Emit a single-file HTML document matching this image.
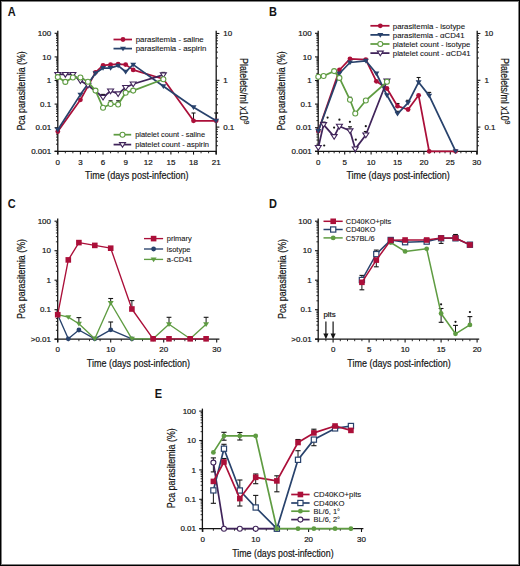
<!DOCTYPE html>
<html><head><meta charset="utf-8"><style>
html,body{margin:0;padding:0;background:#fff;}
.fig{position:relative;width:520px;height:566px;overflow:hidden;background:#fff;}
.frame{position:absolute;left:0;top:0;width:518px;height:564px;border:1px solid #000;}
.frame2{position:absolute;left:1px;top:1px;width:516px;height:562px;border:1px solid #808080;}
svg{position:absolute;left:0;top:0;}
text{font-family:"Liberation Sans",sans-serif;}
</style></head><body>
<div class="fig">
<svg width="520" height="566" viewBox="0 0 520 566" font-family="Liberation Sans, sans-serif">
<text transform="translate(7.70 15.90) scale(0.9 1)" font-size="12.2" fill="#151515" stroke="#151515" stroke-width="0" text-anchor="start" font-weight="bold">A</text>
<line x1="57.80" y1="30.80" x2="57.80" y2="154.60" stroke="#151515" stroke-width="1.3"/>
<line x1="54.60" y1="151.30" x2="216.60" y2="151.30" stroke="#151515" stroke-width="1.3"/>
<line x1="216.20" y1="30.80" x2="216.20" y2="154.60" stroke="#151515" stroke-width="1.3"/>
<line x1="57.80" y1="151.30" x2="54.60" y2="151.30" stroke="#151515" stroke-width="1.1"/>
<line x1="57.80" y1="144.20" x2="56.00" y2="144.20" stroke="#151515" stroke-width="0.9"/>
<line x1="57.80" y1="140.04" x2="56.00" y2="140.04" stroke="#151515" stroke-width="0.9"/>
<line x1="57.80" y1="137.09" x2="56.00" y2="137.09" stroke="#151515" stroke-width="0.9"/>
<line x1="57.80" y1="134.80" x2="56.00" y2="134.80" stroke="#151515" stroke-width="0.9"/>
<line x1="57.80" y1="132.94" x2="56.00" y2="132.94" stroke="#151515" stroke-width="0.9"/>
<line x1="57.80" y1="131.36" x2="56.00" y2="131.36" stroke="#151515" stroke-width="0.9"/>
<line x1="57.80" y1="129.99" x2="56.00" y2="129.99" stroke="#151515" stroke-width="0.9"/>
<line x1="57.80" y1="128.78" x2="56.00" y2="128.78" stroke="#151515" stroke-width="0.9"/>
<line x1="57.80" y1="127.70" x2="54.60" y2="127.70" stroke="#151515" stroke-width="1.1"/>
<line x1="57.80" y1="120.60" x2="56.00" y2="120.60" stroke="#151515" stroke-width="0.9"/>
<line x1="57.80" y1="116.44" x2="56.00" y2="116.44" stroke="#151515" stroke-width="0.9"/>
<line x1="57.80" y1="113.49" x2="56.00" y2="113.49" stroke="#151515" stroke-width="0.9"/>
<line x1="57.80" y1="111.20" x2="56.00" y2="111.20" stroke="#151515" stroke-width="0.9"/>
<line x1="57.80" y1="109.34" x2="56.00" y2="109.34" stroke="#151515" stroke-width="0.9"/>
<line x1="57.80" y1="107.76" x2="56.00" y2="107.76" stroke="#151515" stroke-width="0.9"/>
<line x1="57.80" y1="106.39" x2="56.00" y2="106.39" stroke="#151515" stroke-width="0.9"/>
<line x1="57.80" y1="105.18" x2="56.00" y2="105.18" stroke="#151515" stroke-width="0.9"/>
<line x1="57.80" y1="104.10" x2="54.60" y2="104.10" stroke="#151515" stroke-width="1.1"/>
<line x1="57.80" y1="97.00" x2="56.00" y2="97.00" stroke="#151515" stroke-width="0.9"/>
<line x1="57.80" y1="92.84" x2="56.00" y2="92.84" stroke="#151515" stroke-width="0.9"/>
<line x1="57.80" y1="89.89" x2="56.00" y2="89.89" stroke="#151515" stroke-width="0.9"/>
<line x1="57.80" y1="87.60" x2="56.00" y2="87.60" stroke="#151515" stroke-width="0.9"/>
<line x1="57.80" y1="85.74" x2="56.00" y2="85.74" stroke="#151515" stroke-width="0.9"/>
<line x1="57.80" y1="84.16" x2="56.00" y2="84.16" stroke="#151515" stroke-width="0.9"/>
<line x1="57.80" y1="82.79" x2="56.00" y2="82.79" stroke="#151515" stroke-width="0.9"/>
<line x1="57.80" y1="81.58" x2="56.00" y2="81.58" stroke="#151515" stroke-width="0.9"/>
<line x1="57.80" y1="80.50" x2="54.60" y2="80.50" stroke="#151515" stroke-width="1.1"/>
<line x1="57.80" y1="73.40" x2="56.00" y2="73.40" stroke="#151515" stroke-width="0.9"/>
<line x1="57.80" y1="69.24" x2="56.00" y2="69.24" stroke="#151515" stroke-width="0.9"/>
<line x1="57.80" y1="66.29" x2="56.00" y2="66.29" stroke="#151515" stroke-width="0.9"/>
<line x1="57.80" y1="64.00" x2="56.00" y2="64.00" stroke="#151515" stroke-width="0.9"/>
<line x1="57.80" y1="62.14" x2="56.00" y2="62.14" stroke="#151515" stroke-width="0.9"/>
<line x1="57.80" y1="60.56" x2="56.00" y2="60.56" stroke="#151515" stroke-width="0.9"/>
<line x1="57.80" y1="59.19" x2="56.00" y2="59.19" stroke="#151515" stroke-width="0.9"/>
<line x1="57.80" y1="57.98" x2="56.00" y2="57.98" stroke="#151515" stroke-width="0.9"/>
<line x1="57.80" y1="56.90" x2="54.60" y2="56.90" stroke="#151515" stroke-width="1.1"/>
<line x1="57.80" y1="49.80" x2="56.00" y2="49.80" stroke="#151515" stroke-width="0.9"/>
<line x1="57.80" y1="45.64" x2="56.00" y2="45.64" stroke="#151515" stroke-width="0.9"/>
<line x1="57.80" y1="42.69" x2="56.00" y2="42.69" stroke="#151515" stroke-width="0.9"/>
<line x1="57.80" y1="40.40" x2="56.00" y2="40.40" stroke="#151515" stroke-width="0.9"/>
<line x1="57.80" y1="38.54" x2="56.00" y2="38.54" stroke="#151515" stroke-width="0.9"/>
<line x1="57.80" y1="36.96" x2="56.00" y2="36.96" stroke="#151515" stroke-width="0.9"/>
<line x1="57.80" y1="35.59" x2="56.00" y2="35.59" stroke="#151515" stroke-width="0.9"/>
<line x1="57.80" y1="34.38" x2="56.00" y2="34.38" stroke="#151515" stroke-width="0.9"/>
<line x1="57.80" y1="33.30" x2="54.60" y2="33.30" stroke="#151515" stroke-width="1.1"/>
<line x1="216.20" y1="145.72" x2="218.00" y2="145.72" stroke="#151515" stroke-width="0.9"/>
<line x1="216.20" y1="141.19" x2="218.00" y2="141.19" stroke="#151515" stroke-width="0.9"/>
<line x1="216.20" y1="137.48" x2="218.00" y2="137.48" stroke="#151515" stroke-width="0.9"/>
<line x1="216.20" y1="134.35" x2="218.00" y2="134.35" stroke="#151515" stroke-width="0.9"/>
<line x1="216.20" y1="131.64" x2="218.00" y2="131.64" stroke="#151515" stroke-width="0.9"/>
<line x1="216.20" y1="129.24" x2="218.00" y2="129.24" stroke="#151515" stroke-width="0.9"/>
<line x1="216.20" y1="127.10" x2="219.40" y2="127.10" stroke="#151515" stroke-width="1.1"/>
<line x1="216.20" y1="113.01" x2="218.00" y2="113.01" stroke="#151515" stroke-width="0.9"/>
<line x1="216.20" y1="104.77" x2="218.00" y2="104.77" stroke="#151515" stroke-width="0.9"/>
<line x1="216.20" y1="98.92" x2="218.00" y2="98.92" stroke="#151515" stroke-width="0.9"/>
<line x1="216.20" y1="94.39" x2="218.00" y2="94.39" stroke="#151515" stroke-width="0.9"/>
<line x1="216.20" y1="90.68" x2="218.00" y2="90.68" stroke="#151515" stroke-width="0.9"/>
<line x1="216.20" y1="87.55" x2="218.00" y2="87.55" stroke="#151515" stroke-width="0.9"/>
<line x1="216.20" y1="84.84" x2="218.00" y2="84.84" stroke="#151515" stroke-width="0.9"/>
<line x1="216.20" y1="82.44" x2="218.00" y2="82.44" stroke="#151515" stroke-width="0.9"/>
<line x1="216.20" y1="80.30" x2="219.40" y2="80.30" stroke="#151515" stroke-width="1.1"/>
<line x1="216.20" y1="66.21" x2="218.00" y2="66.21" stroke="#151515" stroke-width="0.9"/>
<line x1="216.20" y1="57.97" x2="218.00" y2="57.97" stroke="#151515" stroke-width="0.9"/>
<line x1="216.20" y1="52.12" x2="218.00" y2="52.12" stroke="#151515" stroke-width="0.9"/>
<line x1="216.20" y1="47.59" x2="218.00" y2="47.59" stroke="#151515" stroke-width="0.9"/>
<line x1="216.20" y1="43.88" x2="218.00" y2="43.88" stroke="#151515" stroke-width="0.9"/>
<line x1="216.20" y1="40.75" x2="218.00" y2="40.75" stroke="#151515" stroke-width="0.9"/>
<line x1="216.20" y1="38.04" x2="218.00" y2="38.04" stroke="#151515" stroke-width="0.9"/>
<line x1="216.20" y1="35.64" x2="218.00" y2="35.64" stroke="#151515" stroke-width="0.9"/>
<line x1="216.20" y1="33.50" x2="219.40" y2="33.50" stroke="#151515" stroke-width="1.1"/>
<line x1="57.80" y1="151.30" x2="57.80" y2="154.60" stroke="#151515" stroke-width="1.1"/>
<text transform="translate(57.80 165.20)" font-size="8.0" fill="#151515" stroke="#151515" stroke-width="0.2" text-anchor="middle">0</text>
<line x1="65.34" y1="151.30" x2="65.34" y2="153.30" stroke="#151515" stroke-width="0.9"/>
<line x1="72.88" y1="151.30" x2="72.88" y2="153.30" stroke="#151515" stroke-width="0.9"/>
<line x1="80.42" y1="151.30" x2="80.42" y2="154.60" stroke="#151515" stroke-width="1.1"/>
<text transform="translate(80.42 165.20)" font-size="8.0" fill="#151515" stroke="#151515" stroke-width="0.2" text-anchor="middle">3</text>
<line x1="87.96" y1="151.30" x2="87.96" y2="153.30" stroke="#151515" stroke-width="0.9"/>
<line x1="95.50" y1="151.30" x2="95.50" y2="153.30" stroke="#151515" stroke-width="0.9"/>
<line x1="103.04" y1="151.30" x2="103.04" y2="154.60" stroke="#151515" stroke-width="1.1"/>
<text transform="translate(103.04 165.20)" font-size="8.0" fill="#151515" stroke="#151515" stroke-width="0.2" text-anchor="middle">6</text>
<line x1="110.58" y1="151.30" x2="110.58" y2="153.30" stroke="#151515" stroke-width="0.9"/>
<line x1="118.12" y1="151.30" x2="118.12" y2="153.30" stroke="#151515" stroke-width="0.9"/>
<line x1="125.66" y1="151.30" x2="125.66" y2="154.60" stroke="#151515" stroke-width="1.1"/>
<text transform="translate(125.66 165.20)" font-size="8.0" fill="#151515" stroke="#151515" stroke-width="0.2" text-anchor="middle">9</text>
<line x1="133.20" y1="151.30" x2="133.20" y2="153.30" stroke="#151515" stroke-width="0.9"/>
<line x1="140.74" y1="151.30" x2="140.74" y2="153.30" stroke="#151515" stroke-width="0.9"/>
<line x1="148.28" y1="151.30" x2="148.28" y2="154.60" stroke="#151515" stroke-width="1.1"/>
<text transform="translate(148.28 165.20)" font-size="8.0" fill="#151515" stroke="#151515" stroke-width="0.2" text-anchor="middle">12</text>
<line x1="155.82" y1="151.30" x2="155.82" y2="153.30" stroke="#151515" stroke-width="0.9"/>
<line x1="163.36" y1="151.30" x2="163.36" y2="153.30" stroke="#151515" stroke-width="0.9"/>
<line x1="170.90" y1="151.30" x2="170.90" y2="154.60" stroke="#151515" stroke-width="1.1"/>
<text transform="translate(170.90 165.20)" font-size="8.0" fill="#151515" stroke="#151515" stroke-width="0.2" text-anchor="middle">15</text>
<line x1="178.44" y1="151.30" x2="178.44" y2="153.30" stroke="#151515" stroke-width="0.9"/>
<line x1="185.98" y1="151.30" x2="185.98" y2="153.30" stroke="#151515" stroke-width="0.9"/>
<line x1="193.52" y1="151.30" x2="193.52" y2="154.60" stroke="#151515" stroke-width="1.1"/>
<text transform="translate(193.52 165.20)" font-size="8.0" fill="#151515" stroke="#151515" stroke-width="0.2" text-anchor="middle">18</text>
<line x1="201.06" y1="151.30" x2="201.06" y2="153.30" stroke="#151515" stroke-width="0.9"/>
<line x1="208.60" y1="151.30" x2="208.60" y2="153.30" stroke="#151515" stroke-width="0.9"/>
<line x1="216.14" y1="151.30" x2="216.14" y2="154.60" stroke="#151515" stroke-width="1.1"/>
<text transform="translate(216.14 165.20)" font-size="8.0" fill="#151515" stroke="#151515" stroke-width="0.2" text-anchor="middle">21</text>
<text transform="translate(51.20 36.00)" font-size="8.0" fill="#151515" stroke="#151515" stroke-width="0.2" text-anchor="end">100</text>
<text transform="translate(51.20 59.60)" font-size="8.0" fill="#151515" stroke="#151515" stroke-width="0.2" text-anchor="end">10</text>
<text transform="translate(51.20 83.20)" font-size="8.0" fill="#151515" stroke="#151515" stroke-width="0.2" text-anchor="end">1</text>
<text transform="translate(51.20 106.80)" font-size="8.0" fill="#151515" stroke="#151515" stroke-width="0.2" text-anchor="end">0.1</text>
<text transform="translate(51.20 130.40)" font-size="8.0" fill="#151515" stroke="#151515" stroke-width="0.2" text-anchor="end">0.01</text>
<text transform="translate(51.20 154.00)" font-size="8.0" fill="#151515" stroke="#151515" stroke-width="0.2" text-anchor="end">0.001</text>
<text transform="translate(223.20 36.20)" font-size="8.0" fill="#151515" stroke="#151515" stroke-width="0.2" text-anchor="start">10</text>
<text transform="translate(223.20 83.00)" font-size="8.0" fill="#151515" stroke="#151515" stroke-width="0.2" text-anchor="start">1</text>
<text transform="translate(223.20 129.80)" font-size="8.0" fill="#151515" stroke="#151515" stroke-width="0.2" text-anchor="start">0.1</text>
<text transform="translate(136.80 178.80)" font-size="10.7" fill="#151515" stroke="#151515" stroke-width="0.2" text-anchor="middle" textLength="103.4" lengthAdjust="spacingAndGlyphs">Time (days post-infection)</text>
<text transform="translate(24.90 90.90) rotate(-90)" font-size="10.7" fill="#151515" stroke="#151515" stroke-width="0.2" text-anchor="middle" textLength="79.3" lengthAdjust="spacingAndGlyphs">Pca parasitemia (%)</text>
<text transform="translate(240.20 58.00) rotate(90)" font-size="10.7" fill="#151515" stroke="#151515" stroke-width="0.2" text-anchor="start" textLength="62.6" lengthAdjust="spacingAndGlyphs">Platelets/ml x10</text>
<text transform="translate(244.40 120.60) rotate(90)" font-size="7.0" fill="#151515" stroke="#151515" stroke-width="0.2" text-anchor="start">9</text>
<line x1="193.52" y1="120.80" x2="193.52" y2="113.00" stroke="#151515" stroke-width="1.0"/>
<line x1="191.52" y1="113.00" x2="195.52" y2="113.00" stroke="#151515" stroke-width="1.1"/>
<line x1="216.14" y1="120.80" x2="216.14" y2="113.00" stroke="#151515" stroke-width="1.0"/>
<line x1="214.14" y1="113.00" x2="218.14" y2="113.00" stroke="#151515" stroke-width="1.1"/>
<line x1="110.58" y1="104.00" x2="110.58" y2="100.80" stroke="#151515" stroke-width="1.0"/>
<line x1="108.58" y1="100.80" x2="112.58" y2="100.80" stroke="#151515" stroke-width="1.1"/>
<line x1="118.12" y1="104.50" x2="118.12" y2="100.80" stroke="#151515" stroke-width="1.0"/>
<line x1="116.12" y1="100.80" x2="120.12" y2="100.80" stroke="#151515" stroke-width="1.1"/>
<line x1="103.04" y1="97.30" x2="103.04" y2="94.40" stroke="#151515" stroke-width="1.0"/>
<line x1="101.04" y1="94.40" x2="105.04" y2="94.40" stroke="#151515" stroke-width="1.1"/>
<line x1="163.36" y1="74.80" x2="163.36" y2="72.40" stroke="#151515" stroke-width="1.0"/>
<line x1="161.36" y1="72.40" x2="165.36" y2="72.40" stroke="#151515" stroke-width="1.1"/>
<polyline points="57.80,131.50 80.42,99.80 95.50,72.30 103.04,65.40 110.58,64.60 118.12,64.10 125.66,64.60 133.20,69.90 163.36,79.00 193.52,120.80 216.14,120.80" fill="none" stroke="#ab0f39" stroke-width="1.75" stroke-linejoin="round"/>
<circle cx="57.80" cy="131.50" r="2.40" fill="#ab0f39"/>
<circle cx="80.42" cy="99.80" r="2.40" fill="#ab0f39"/>
<circle cx="95.50" cy="72.30" r="2.40" fill="#ab0f39"/>
<circle cx="103.04" cy="65.40" r="2.40" fill="#ab0f39"/>
<circle cx="110.58" cy="64.60" r="2.40" fill="#ab0f39"/>
<circle cx="118.12" cy="64.10" r="2.40" fill="#ab0f39"/>
<circle cx="125.66" cy="64.60" r="2.40" fill="#ab0f39"/>
<circle cx="133.20" cy="69.90" r="2.40" fill="#ab0f39"/>
<circle cx="163.36" cy="79.00" r="2.40" fill="#ab0f39"/>
<circle cx="193.52" cy="120.80" r="2.40" fill="#ab0f39"/>
<circle cx="216.14" cy="120.80" r="2.40" fill="#ab0f39"/>
<polyline points="57.80,129.80 80.42,94.60 95.50,73.30 103.04,68.00 110.58,68.00 118.12,65.60 125.66,71.80 133.20,64.60 163.36,86.20 193.52,107.30 216.14,120.80" fill="none" stroke="#28426c" stroke-width="1.75" stroke-linejoin="round"/>
<path d="M54.80,127.85L60.80,127.85L57.80,132.53Z" fill="#28426c"/>
<path d="M77.42,92.65L83.42,92.65L80.42,97.33Z" fill="#28426c"/>
<path d="M92.50,71.35L98.50,71.35L95.50,76.03Z" fill="#28426c"/>
<path d="M100.04,66.05L106.04,66.05L103.04,70.73Z" fill="#28426c"/>
<path d="M107.58,66.05L113.58,66.05L110.58,70.73Z" fill="#28426c"/>
<path d="M115.12,63.65L121.12,63.65L118.12,68.33Z" fill="#28426c"/>
<path d="M122.66,69.85L128.66,69.85L125.66,74.53Z" fill="#28426c"/>
<path d="M130.20,62.65L136.20,62.65L133.20,67.33Z" fill="#28426c"/>
<path d="M160.36,84.25L166.36,84.25L163.36,88.93Z" fill="#28426c"/>
<path d="M190.52,105.35L196.52,105.35L193.52,110.03Z" fill="#28426c"/>
<path d="M213.14,118.85L219.14,118.85L216.14,123.53Z" fill="#28426c"/>
<polyline points="57.80,74.40 65.34,74.40 72.88,74.40 80.42,80.80 87.96,85.30 103.04,97.30 110.58,91.00 118.12,93.80 125.66,87.50 133.20,84.00 163.36,74.80" fill="none" stroke="#40245a" stroke-width="1.75" stroke-linejoin="round"/>
<path d="M54.80,72.45L60.80,72.45L57.80,77.13Z" fill="#fff" stroke="#40245a" stroke-width="1.1" stroke-linejoin="miter"/>
<path d="M62.34,72.45L68.34,72.45L65.34,77.13Z" fill="#fff" stroke="#40245a" stroke-width="1.1" stroke-linejoin="miter"/>
<path d="M69.88,72.45L75.88,72.45L72.88,77.13Z" fill="#fff" stroke="#40245a" stroke-width="1.1" stroke-linejoin="miter"/>
<path d="M77.42,78.85L83.42,78.85L80.42,83.53Z" fill="#fff" stroke="#40245a" stroke-width="1.1" stroke-linejoin="miter"/>
<path d="M84.96,83.35L90.96,83.35L87.96,88.03Z" fill="#fff" stroke="#40245a" stroke-width="1.1" stroke-linejoin="miter"/>
<path d="M100.04,95.35L106.04,95.35L103.04,100.03Z" fill="#fff" stroke="#40245a" stroke-width="1.1" stroke-linejoin="miter"/>
<path d="M107.58,89.05L113.58,89.05L110.58,93.73Z" fill="#fff" stroke="#40245a" stroke-width="1.1" stroke-linejoin="miter"/>
<path d="M115.12,91.85L121.12,91.85L118.12,96.53Z" fill="#fff" stroke="#40245a" stroke-width="1.1" stroke-linejoin="miter"/>
<path d="M122.66,85.55L128.66,85.55L125.66,90.23Z" fill="#fff" stroke="#40245a" stroke-width="1.1" stroke-linejoin="miter"/>
<path d="M130.20,82.05L136.20,82.05L133.20,86.73Z" fill="#fff" stroke="#40245a" stroke-width="1.1" stroke-linejoin="miter"/>
<path d="M160.36,72.85L166.36,72.85L163.36,77.53Z" fill="#fff" stroke="#40245a" stroke-width="1.1" stroke-linejoin="miter"/>
<polyline points="57.80,77.10 65.34,81.90 72.88,77.50 80.42,77.50 87.96,81.80 95.50,90.60 103.04,107.70 110.58,104.00 118.12,104.50 125.66,92.70 133.20,90.60 163.36,79.20" fill="none" stroke="#5f9c42" stroke-width="1.75" stroke-linejoin="round"/>
<circle cx="57.80" cy="77.10" r="2.50" fill="#fff" stroke="#5f9c42" stroke-width="1.1"/>
<circle cx="65.34" cy="81.90" r="2.50" fill="#fff" stroke="#5f9c42" stroke-width="1.1"/>
<circle cx="72.88" cy="77.50" r="2.50" fill="#fff" stroke="#5f9c42" stroke-width="1.1"/>
<circle cx="80.42" cy="77.50" r="2.50" fill="#fff" stroke="#5f9c42" stroke-width="1.1"/>
<circle cx="87.96" cy="81.80" r="2.50" fill="#fff" stroke="#5f9c42" stroke-width="1.1"/>
<circle cx="95.50" cy="90.60" r="2.50" fill="#fff" stroke="#5f9c42" stroke-width="1.1"/>
<circle cx="103.04" cy="107.70" r="2.50" fill="#fff" stroke="#5f9c42" stroke-width="1.1"/>
<circle cx="110.58" cy="104.00" r="2.50" fill="#fff" stroke="#5f9c42" stroke-width="1.1"/>
<circle cx="118.12" cy="104.50" r="2.50" fill="#fff" stroke="#5f9c42" stroke-width="1.1"/>
<circle cx="125.66" cy="92.70" r="2.50" fill="#fff" stroke="#5f9c42" stroke-width="1.1"/>
<circle cx="133.20" cy="90.60" r="2.50" fill="#fff" stroke="#5f9c42" stroke-width="1.1"/>
<circle cx="163.36" cy="79.20" r="2.50" fill="#fff" stroke="#5f9c42" stroke-width="1.1"/>
<line x1="113.50" y1="39.50" x2="132.00" y2="39.50" stroke="#ab0f39" stroke-width="1.75"/>
<circle cx="123.00" cy="39.50" r="2.40" fill="#ab0f39"/>
<text transform="translate(135.70 42.20)" font-size="7.8" fill="#151515" stroke="#151515" stroke-width="0.1" text-anchor="start" textLength="68" lengthAdjust="spacingAndGlyphs">parasitemia - saline</text>
<line x1="113.50" y1="48.60" x2="132.00" y2="48.60" stroke="#28426c" stroke-width="1.75"/>
<path d="M120.00,46.65L126.00,46.65L123.00,51.33Z" fill="#28426c"/>
<text transform="translate(135.70 51.30)" font-size="7.8" fill="#151515" stroke="#151515" stroke-width="0.1" text-anchor="start" textLength="70.6" lengthAdjust="spacingAndGlyphs">parasitemia - aspirin</text>
<line x1="113.60" y1="134.70" x2="131.20" y2="134.70" stroke="#5f9c42" stroke-width="1.75"/>
<circle cx="122.50" cy="134.70" r="2.50" fill="#fff" stroke="#5f9c42" stroke-width="1.1"/>
<text transform="translate(135.20 137.40)" font-size="7.8" fill="#151515" stroke="#151515" stroke-width="0.1" text-anchor="start" textLength="69.8" lengthAdjust="spacingAndGlyphs">platelet count - saline</text>
<line x1="113.60" y1="144.60" x2="131.20" y2="144.60" stroke="#40245a" stroke-width="1.75"/>
<path d="M119.50,142.65L125.50,142.65L122.50,147.33Z" fill="#fff" stroke="#40245a" stroke-width="1.1" stroke-linejoin="miter"/>
<text transform="translate(135.20 147.30)" font-size="7.8" fill="#151515" stroke="#151515" stroke-width="0.1" text-anchor="start" textLength="73.8" lengthAdjust="spacingAndGlyphs">platelet count - aspirin</text>
<text transform="translate(269.00 16.10) scale(0.9 1)" font-size="12.2" fill="#151515" stroke="#151515" stroke-width="0" text-anchor="start" font-weight="bold">B</text>
<line x1="318.20" y1="30.80" x2="318.20" y2="154.60" stroke="#151515" stroke-width="1.3"/>
<line x1="315.00" y1="151.30" x2="477.40" y2="151.30" stroke="#151515" stroke-width="1.3"/>
<line x1="477.20" y1="30.80" x2="477.20" y2="154.60" stroke="#151515" stroke-width="1.3"/>
<line x1="318.20" y1="151.30" x2="315.00" y2="151.30" stroke="#151515" stroke-width="1.1"/>
<line x1="318.20" y1="144.20" x2="316.40" y2="144.20" stroke="#151515" stroke-width="0.9"/>
<line x1="318.20" y1="140.04" x2="316.40" y2="140.04" stroke="#151515" stroke-width="0.9"/>
<line x1="318.20" y1="137.09" x2="316.40" y2="137.09" stroke="#151515" stroke-width="0.9"/>
<line x1="318.20" y1="134.80" x2="316.40" y2="134.80" stroke="#151515" stroke-width="0.9"/>
<line x1="318.20" y1="132.94" x2="316.40" y2="132.94" stroke="#151515" stroke-width="0.9"/>
<line x1="318.20" y1="131.36" x2="316.40" y2="131.36" stroke="#151515" stroke-width="0.9"/>
<line x1="318.20" y1="129.99" x2="316.40" y2="129.99" stroke="#151515" stroke-width="0.9"/>
<line x1="318.20" y1="128.78" x2="316.40" y2="128.78" stroke="#151515" stroke-width="0.9"/>
<line x1="318.20" y1="127.70" x2="315.00" y2="127.70" stroke="#151515" stroke-width="1.1"/>
<line x1="318.20" y1="120.60" x2="316.40" y2="120.60" stroke="#151515" stroke-width="0.9"/>
<line x1="318.20" y1="116.44" x2="316.40" y2="116.44" stroke="#151515" stroke-width="0.9"/>
<line x1="318.20" y1="113.49" x2="316.40" y2="113.49" stroke="#151515" stroke-width="0.9"/>
<line x1="318.20" y1="111.20" x2="316.40" y2="111.20" stroke="#151515" stroke-width="0.9"/>
<line x1="318.20" y1="109.34" x2="316.40" y2="109.34" stroke="#151515" stroke-width="0.9"/>
<line x1="318.20" y1="107.76" x2="316.40" y2="107.76" stroke="#151515" stroke-width="0.9"/>
<line x1="318.20" y1="106.39" x2="316.40" y2="106.39" stroke="#151515" stroke-width="0.9"/>
<line x1="318.20" y1="105.18" x2="316.40" y2="105.18" stroke="#151515" stroke-width="0.9"/>
<line x1="318.20" y1="104.10" x2="315.00" y2="104.10" stroke="#151515" stroke-width="1.1"/>
<line x1="318.20" y1="97.00" x2="316.40" y2="97.00" stroke="#151515" stroke-width="0.9"/>
<line x1="318.20" y1="92.84" x2="316.40" y2="92.84" stroke="#151515" stroke-width="0.9"/>
<line x1="318.20" y1="89.89" x2="316.40" y2="89.89" stroke="#151515" stroke-width="0.9"/>
<line x1="318.20" y1="87.60" x2="316.40" y2="87.60" stroke="#151515" stroke-width="0.9"/>
<line x1="318.20" y1="85.74" x2="316.40" y2="85.74" stroke="#151515" stroke-width="0.9"/>
<line x1="318.20" y1="84.16" x2="316.40" y2="84.16" stroke="#151515" stroke-width="0.9"/>
<line x1="318.20" y1="82.79" x2="316.40" y2="82.79" stroke="#151515" stroke-width="0.9"/>
<line x1="318.20" y1="81.58" x2="316.40" y2="81.58" stroke="#151515" stroke-width="0.9"/>
<line x1="318.20" y1="80.50" x2="315.00" y2="80.50" stroke="#151515" stroke-width="1.1"/>
<line x1="318.20" y1="73.40" x2="316.40" y2="73.40" stroke="#151515" stroke-width="0.9"/>
<line x1="318.20" y1="69.24" x2="316.40" y2="69.24" stroke="#151515" stroke-width="0.9"/>
<line x1="318.20" y1="66.29" x2="316.40" y2="66.29" stroke="#151515" stroke-width="0.9"/>
<line x1="318.20" y1="64.00" x2="316.40" y2="64.00" stroke="#151515" stroke-width="0.9"/>
<line x1="318.20" y1="62.14" x2="316.40" y2="62.14" stroke="#151515" stroke-width="0.9"/>
<line x1="318.20" y1="60.56" x2="316.40" y2="60.56" stroke="#151515" stroke-width="0.9"/>
<line x1="318.20" y1="59.19" x2="316.40" y2="59.19" stroke="#151515" stroke-width="0.9"/>
<line x1="318.20" y1="57.98" x2="316.40" y2="57.98" stroke="#151515" stroke-width="0.9"/>
<line x1="318.20" y1="56.90" x2="315.00" y2="56.90" stroke="#151515" stroke-width="1.1"/>
<line x1="318.20" y1="49.80" x2="316.40" y2="49.80" stroke="#151515" stroke-width="0.9"/>
<line x1="318.20" y1="45.64" x2="316.40" y2="45.64" stroke="#151515" stroke-width="0.9"/>
<line x1="318.20" y1="42.69" x2="316.40" y2="42.69" stroke="#151515" stroke-width="0.9"/>
<line x1="318.20" y1="40.40" x2="316.40" y2="40.40" stroke="#151515" stroke-width="0.9"/>
<line x1="318.20" y1="38.54" x2="316.40" y2="38.54" stroke="#151515" stroke-width="0.9"/>
<line x1="318.20" y1="36.96" x2="316.40" y2="36.96" stroke="#151515" stroke-width="0.9"/>
<line x1="318.20" y1="35.59" x2="316.40" y2="35.59" stroke="#151515" stroke-width="0.9"/>
<line x1="318.20" y1="34.38" x2="316.40" y2="34.38" stroke="#151515" stroke-width="0.9"/>
<line x1="318.20" y1="33.30" x2="315.00" y2="33.30" stroke="#151515" stroke-width="1.1"/>
<line x1="477.20" y1="145.72" x2="479.00" y2="145.72" stroke="#151515" stroke-width="0.9"/>
<line x1="477.20" y1="141.19" x2="479.00" y2="141.19" stroke="#151515" stroke-width="0.9"/>
<line x1="477.20" y1="137.48" x2="479.00" y2="137.48" stroke="#151515" stroke-width="0.9"/>
<line x1="477.20" y1="134.35" x2="479.00" y2="134.35" stroke="#151515" stroke-width="0.9"/>
<line x1="477.20" y1="131.64" x2="479.00" y2="131.64" stroke="#151515" stroke-width="0.9"/>
<line x1="477.20" y1="129.24" x2="479.00" y2="129.24" stroke="#151515" stroke-width="0.9"/>
<line x1="477.20" y1="127.10" x2="480.40" y2="127.10" stroke="#151515" stroke-width="1.1"/>
<line x1="477.20" y1="113.01" x2="479.00" y2="113.01" stroke="#151515" stroke-width="0.9"/>
<line x1="477.20" y1="104.77" x2="479.00" y2="104.77" stroke="#151515" stroke-width="0.9"/>
<line x1="477.20" y1="98.92" x2="479.00" y2="98.92" stroke="#151515" stroke-width="0.9"/>
<line x1="477.20" y1="94.39" x2="479.00" y2="94.39" stroke="#151515" stroke-width="0.9"/>
<line x1="477.20" y1="90.68" x2="479.00" y2="90.68" stroke="#151515" stroke-width="0.9"/>
<line x1="477.20" y1="87.55" x2="479.00" y2="87.55" stroke="#151515" stroke-width="0.9"/>
<line x1="477.20" y1="84.84" x2="479.00" y2="84.84" stroke="#151515" stroke-width="0.9"/>
<line x1="477.20" y1="82.44" x2="479.00" y2="82.44" stroke="#151515" stroke-width="0.9"/>
<line x1="477.20" y1="80.30" x2="480.40" y2="80.30" stroke="#151515" stroke-width="1.1"/>
<line x1="477.20" y1="66.21" x2="479.00" y2="66.21" stroke="#151515" stroke-width="0.9"/>
<line x1="477.20" y1="57.97" x2="479.00" y2="57.97" stroke="#151515" stroke-width="0.9"/>
<line x1="477.20" y1="52.12" x2="479.00" y2="52.12" stroke="#151515" stroke-width="0.9"/>
<line x1="477.20" y1="47.59" x2="479.00" y2="47.59" stroke="#151515" stroke-width="0.9"/>
<line x1="477.20" y1="43.88" x2="479.00" y2="43.88" stroke="#151515" stroke-width="0.9"/>
<line x1="477.20" y1="40.75" x2="479.00" y2="40.75" stroke="#151515" stroke-width="0.9"/>
<line x1="477.20" y1="38.04" x2="479.00" y2="38.04" stroke="#151515" stroke-width="0.9"/>
<line x1="477.20" y1="35.64" x2="479.00" y2="35.64" stroke="#151515" stroke-width="0.9"/>
<line x1="477.20" y1="33.50" x2="480.40" y2="33.50" stroke="#151515" stroke-width="1.1"/>
<line x1="318.30" y1="151.30" x2="318.30" y2="154.60" stroke="#151515" stroke-width="1.1"/>
<text transform="translate(318.30 165.20)" font-size="8.0" fill="#151515" stroke="#151515" stroke-width="0.2" text-anchor="middle">0</text>
<line x1="323.58" y1="151.30" x2="323.58" y2="153.30" stroke="#151515" stroke-width="0.9"/>
<line x1="328.86" y1="151.30" x2="328.86" y2="153.30" stroke="#151515" stroke-width="0.9"/>
<line x1="334.14" y1="151.30" x2="334.14" y2="153.30" stroke="#151515" stroke-width="0.9"/>
<line x1="339.42" y1="151.30" x2="339.42" y2="153.30" stroke="#151515" stroke-width="0.9"/>
<line x1="344.70" y1="151.30" x2="344.70" y2="154.60" stroke="#151515" stroke-width="1.1"/>
<text transform="translate(344.70 165.20)" font-size="8.0" fill="#151515" stroke="#151515" stroke-width="0.2" text-anchor="middle">5</text>
<line x1="349.98" y1="151.30" x2="349.98" y2="153.30" stroke="#151515" stroke-width="0.9"/>
<line x1="355.26" y1="151.30" x2="355.26" y2="153.30" stroke="#151515" stroke-width="0.9"/>
<line x1="360.54" y1="151.30" x2="360.54" y2="153.30" stroke="#151515" stroke-width="0.9"/>
<line x1="365.82" y1="151.30" x2="365.82" y2="153.30" stroke="#151515" stroke-width="0.9"/>
<line x1="371.10" y1="151.30" x2="371.10" y2="154.60" stroke="#151515" stroke-width="1.1"/>
<text transform="translate(371.10 165.20)" font-size="8.0" fill="#151515" stroke="#151515" stroke-width="0.2" text-anchor="middle">10</text>
<line x1="376.38" y1="151.30" x2="376.38" y2="153.30" stroke="#151515" stroke-width="0.9"/>
<line x1="381.66" y1="151.30" x2="381.66" y2="153.30" stroke="#151515" stroke-width="0.9"/>
<line x1="386.94" y1="151.30" x2="386.94" y2="153.30" stroke="#151515" stroke-width="0.9"/>
<line x1="392.22" y1="151.30" x2="392.22" y2="153.30" stroke="#151515" stroke-width="0.9"/>
<line x1="397.50" y1="151.30" x2="397.50" y2="154.60" stroke="#151515" stroke-width="1.1"/>
<text transform="translate(397.50 165.20)" font-size="8.0" fill="#151515" stroke="#151515" stroke-width="0.2" text-anchor="middle">15</text>
<line x1="402.78" y1="151.30" x2="402.78" y2="153.30" stroke="#151515" stroke-width="0.9"/>
<line x1="408.06" y1="151.30" x2="408.06" y2="153.30" stroke="#151515" stroke-width="0.9"/>
<line x1="413.34" y1="151.30" x2="413.34" y2="153.30" stroke="#151515" stroke-width="0.9"/>
<line x1="418.62" y1="151.30" x2="418.62" y2="153.30" stroke="#151515" stroke-width="0.9"/>
<line x1="423.90" y1="151.30" x2="423.90" y2="154.60" stroke="#151515" stroke-width="1.1"/>
<text transform="translate(423.90 165.20)" font-size="8.0" fill="#151515" stroke="#151515" stroke-width="0.2" text-anchor="middle">20</text>
<line x1="429.18" y1="151.30" x2="429.18" y2="153.30" stroke="#151515" stroke-width="0.9"/>
<line x1="434.46" y1="151.30" x2="434.46" y2="153.30" stroke="#151515" stroke-width="0.9"/>
<line x1="439.74" y1="151.30" x2="439.74" y2="153.30" stroke="#151515" stroke-width="0.9"/>
<line x1="445.02" y1="151.30" x2="445.02" y2="153.30" stroke="#151515" stroke-width="0.9"/>
<line x1="450.30" y1="151.30" x2="450.30" y2="154.60" stroke="#151515" stroke-width="1.1"/>
<text transform="translate(450.30 165.20)" font-size="8.0" fill="#151515" stroke="#151515" stroke-width="0.2" text-anchor="middle">25</text>
<line x1="455.58" y1="151.30" x2="455.58" y2="153.30" stroke="#151515" stroke-width="0.9"/>
<line x1="460.86" y1="151.30" x2="460.86" y2="153.30" stroke="#151515" stroke-width="0.9"/>
<line x1="466.14" y1="151.30" x2="466.14" y2="153.30" stroke="#151515" stroke-width="0.9"/>
<line x1="471.42" y1="151.30" x2="471.42" y2="153.30" stroke="#151515" stroke-width="0.9"/>
<line x1="476.70" y1="151.30" x2="476.70" y2="154.60" stroke="#151515" stroke-width="1.1"/>
<text transform="translate(476.70 165.20)" font-size="8.0" fill="#151515" stroke="#151515" stroke-width="0.2" text-anchor="middle">30</text>
<text transform="translate(311.60 36.00)" font-size="8.0" fill="#151515" stroke="#151515" stroke-width="0.2" text-anchor="end">100</text>
<text transform="translate(311.60 59.60)" font-size="8.0" fill="#151515" stroke="#151515" stroke-width="0.2" text-anchor="end">10</text>
<text transform="translate(311.60 83.20)" font-size="8.0" fill="#151515" stroke="#151515" stroke-width="0.2" text-anchor="end">1</text>
<text transform="translate(311.60 106.80)" font-size="8.0" fill="#151515" stroke="#151515" stroke-width="0.2" text-anchor="end">0.1</text>
<text transform="translate(311.60 130.40)" font-size="8.0" fill="#151515" stroke="#151515" stroke-width="0.2" text-anchor="end">0.01</text>
<text transform="translate(311.60 154.00)" font-size="8.0" fill="#151515" stroke="#151515" stroke-width="0.2" text-anchor="end">0.001</text>
<text transform="translate(484.40 36.20)" font-size="8.0" fill="#151515" stroke="#151515" stroke-width="0.2" text-anchor="start">10</text>
<text transform="translate(484.40 83.00)" font-size="8.0" fill="#151515" stroke="#151515" stroke-width="0.2" text-anchor="start">1</text>
<text transform="translate(484.40 129.80)" font-size="8.0" fill="#151515" stroke="#151515" stroke-width="0.2" text-anchor="start">0.1</text>
<text transform="translate(398.10 178.80)" font-size="10.7" fill="#151515" stroke="#151515" stroke-width="0.2" text-anchor="middle" textLength="103.4" lengthAdjust="spacingAndGlyphs">Time (days post-infection)</text>
<text transform="translate(285.20 90.90) rotate(-90)" font-size="10.7" fill="#151515" stroke="#151515" stroke-width="0.2" text-anchor="middle" textLength="79.3" lengthAdjust="spacingAndGlyphs">Pca parasitemia (%)</text>
<text transform="translate(500.70 58.00) rotate(90)" font-size="10.7" fill="#151515" stroke="#151515" stroke-width="0.2" text-anchor="start" textLength="62.6" lengthAdjust="spacingAndGlyphs">Platelets/ml x10</text>
<text transform="translate(504.90 120.60) rotate(90)" font-size="7.0" fill="#151515" stroke="#151515" stroke-width="0.2" text-anchor="start">9</text>
<line x1="323.58" y1="124.60" x2="323.58" y2="122.10" stroke="#151515" stroke-width="1.0"/>
<line x1="321.58" y1="122.10" x2="325.58" y2="122.10" stroke="#151515" stroke-width="1.1"/>
<line x1="349.98" y1="130.80" x2="349.98" y2="126.80" stroke="#151515" stroke-width="1.0"/>
<line x1="347.98" y1="126.80" x2="351.98" y2="126.80" stroke="#151515" stroke-width="1.1"/>
<line x1="365.82" y1="135.00" x2="365.82" y2="131.50" stroke="#151515" stroke-width="1.0"/>
<line x1="363.82" y1="131.50" x2="367.82" y2="131.50" stroke="#151515" stroke-width="1.1"/>
<line x1="349.98" y1="99.80" x2="349.98" y2="97.30" stroke="#151515" stroke-width="1.0"/>
<line x1="347.98" y1="97.30" x2="351.98" y2="97.30" stroke="#151515" stroke-width="1.1"/>
<line x1="386.94" y1="81.80" x2="386.94" y2="79.50" stroke="#151515" stroke-width="1.0"/>
<line x1="384.94" y1="79.50" x2="388.94" y2="79.50" stroke="#151515" stroke-width="1.1"/>
<line x1="397.50" y1="106.20" x2="397.50" y2="103.50" stroke="#151515" stroke-width="1.0"/>
<line x1="395.50" y1="103.50" x2="399.50" y2="103.50" stroke="#151515" stroke-width="1.1"/>
<line x1="397.50" y1="113.80" x2="397.50" y2="111.30" stroke="#151515" stroke-width="1.0"/>
<line x1="395.50" y1="111.30" x2="399.50" y2="111.30" stroke="#151515" stroke-width="1.1"/>
<line x1="408.06" y1="102.80" x2="408.06" y2="100.30" stroke="#151515" stroke-width="1.0"/>
<line x1="406.06" y1="100.30" x2="410.06" y2="100.30" stroke="#151515" stroke-width="1.1"/>
<line x1="418.62" y1="82.20" x2="418.62" y2="77.50" stroke="#151515" stroke-width="1.0"/>
<line x1="416.62" y1="77.50" x2="420.62" y2="77.50" stroke="#151515" stroke-width="1.1"/>
<line x1="429.18" y1="95.60" x2="429.18" y2="92.40" stroke="#151515" stroke-width="1.0"/>
<line x1="427.18" y1="92.40" x2="431.18" y2="92.40" stroke="#151515" stroke-width="1.1"/>
<circle cx="324.20" cy="145.50" r="1.1" fill="#151515"/>
<circle cx="327.60" cy="117.60" r="1.1" fill="#151515"/>
<circle cx="334.10" cy="127.60" r="1.1" fill="#151515"/>
<circle cx="339.40" cy="119.70" r="1.1" fill="#151515"/>
<circle cx="349.90" cy="121.80" r="1.1" fill="#151515"/>
<circle cx="355.80" cy="139.70" r="1.1" fill="#151515"/>
<circle cx="365.80" cy="126.20" r="1.1" fill="#151515"/>
<polyline points="318.30,131.00 339.42,70.00 349.98,58.80 365.82,59.60 376.38,81.30 386.94,88.50 397.50,106.20 408.06,109.50 418.62,95.30 429.18,151.30 455.58,151.30" fill="none" stroke="#ab0f39" stroke-width="1.75" stroke-linejoin="round"/>
<circle cx="318.30" cy="131.00" r="2.40" fill="#ab0f39"/>
<circle cx="339.42" cy="70.00" r="2.40" fill="#ab0f39"/>
<circle cx="349.98" cy="58.80" r="2.40" fill="#ab0f39"/>
<circle cx="365.82" cy="59.60" r="2.40" fill="#ab0f39"/>
<circle cx="376.38" cy="81.30" r="2.40" fill="#ab0f39"/>
<circle cx="386.94" cy="88.50" r="2.40" fill="#ab0f39"/>
<circle cx="397.50" cy="106.20" r="2.40" fill="#ab0f39"/>
<circle cx="408.06" cy="109.50" r="2.40" fill="#ab0f39"/>
<circle cx="418.62" cy="95.30" r="2.40" fill="#ab0f39"/>
<circle cx="429.18" cy="151.30" r="2.40" fill="#ab0f39"/>
<circle cx="455.58" cy="151.30" r="2.40" fill="#ab0f39"/>
<polyline points="318.30,131.00 339.42,73.50 349.98,62.50 365.82,60.80 376.38,73.50 386.94,95.30 397.50,113.80 408.06,102.80 418.62,82.20 429.18,95.60 455.58,151.10" fill="none" stroke="#28426c" stroke-width="1.75" stroke-linejoin="round"/>
<path d="M315.30,129.05L321.30,129.05L318.30,133.73Z" fill="#28426c"/>
<path d="M336.42,71.55L342.42,71.55L339.42,76.23Z" fill="#28426c"/>
<path d="M346.98,60.55L352.98,60.55L349.98,65.23Z" fill="#28426c"/>
<path d="M362.82,58.85L368.82,58.85L365.82,63.53Z" fill="#28426c"/>
<path d="M373.38,71.55L379.38,71.55L376.38,76.23Z" fill="#28426c"/>
<path d="M383.94,93.35L389.94,93.35L386.94,98.03Z" fill="#28426c"/>
<path d="M394.50,111.85L400.50,111.85L397.50,116.53Z" fill="#28426c"/>
<path d="M405.06,100.85L411.06,100.85L408.06,105.53Z" fill="#28426c"/>
<path d="M415.62,80.25L421.62,80.25L418.62,84.93Z" fill="#28426c"/>
<path d="M426.18,93.65L432.18,93.65L429.18,98.33Z" fill="#28426c"/>
<path d="M452.58,149.15L458.58,149.15L455.58,153.83Z" fill="#28426c"/>
<polyline points="318.30,147.50 323.58,124.60 334.14,136.60 339.42,126.20 349.98,130.80 355.26,148.90 365.82,135.00 386.94,81.00" fill="none" stroke="#40245a" stroke-width="1.75" stroke-linejoin="round"/>
<path d="M315.30,145.55L321.30,145.55L318.30,150.23Z" fill="#fff" stroke="#40245a" stroke-width="1.1" stroke-linejoin="miter"/>
<path d="M320.58,122.65L326.58,122.65L323.58,127.33Z" fill="#fff" stroke="#40245a" stroke-width="1.1" stroke-linejoin="miter"/>
<path d="M331.14,134.65L337.14,134.65L334.14,139.33Z" fill="#fff" stroke="#40245a" stroke-width="1.1" stroke-linejoin="miter"/>
<path d="M336.42,124.25L342.42,124.25L339.42,128.93Z" fill="#fff" stroke="#40245a" stroke-width="1.1" stroke-linejoin="miter"/>
<path d="M346.98,128.85L352.98,128.85L349.98,133.53Z" fill="#fff" stroke="#40245a" stroke-width="1.1" stroke-linejoin="miter"/>
<path d="M352.26,146.95L358.26,146.95L355.26,151.63Z" fill="#fff" stroke="#40245a" stroke-width="1.1" stroke-linejoin="miter"/>
<path d="M362.82,133.05L368.82,133.05L365.82,137.73Z" fill="#fff" stroke="#40245a" stroke-width="1.1" stroke-linejoin="miter"/>
<path d="M383.94,79.05L389.94,79.05L386.94,83.73Z" fill="#fff" stroke="#40245a" stroke-width="1.1" stroke-linejoin="miter"/>
<polyline points="318.30,76.70 323.58,76.00 334.14,71.10 339.42,77.90 349.98,99.80 355.26,113.50 365.82,100.50 386.94,81.80" fill="none" stroke="#5f9c42" stroke-width="1.75" stroke-linejoin="round"/>
<circle cx="318.30" cy="76.70" r="2.50" fill="#fff" stroke="#5f9c42" stroke-width="1.1"/>
<circle cx="323.58" cy="76.00" r="2.50" fill="#fff" stroke="#5f9c42" stroke-width="1.1"/>
<circle cx="334.14" cy="71.10" r="2.50" fill="#fff" stroke="#5f9c42" stroke-width="1.1"/>
<circle cx="339.42" cy="77.90" r="2.50" fill="#fff" stroke="#5f9c42" stroke-width="1.1"/>
<circle cx="349.98" cy="99.80" r="2.50" fill="#fff" stroke="#5f9c42" stroke-width="1.1"/>
<circle cx="355.26" cy="113.50" r="2.50" fill="#fff" stroke="#5f9c42" stroke-width="1.1"/>
<circle cx="365.82" cy="100.50" r="2.50" fill="#fff" stroke="#5f9c42" stroke-width="1.1"/>
<circle cx="386.94" cy="81.80" r="2.50" fill="#fff" stroke="#5f9c42" stroke-width="1.1"/>
<line x1="370.40" y1="25.80" x2="389.50" y2="25.80" stroke="#ab0f39" stroke-width="1.75"/>
<circle cx="380.30" cy="25.80" r="2.40" fill="#ab0f39"/>
<text transform="translate(392.80 28.50)" font-size="7.8" fill="#151515" stroke="#151515" stroke-width="0.1" text-anchor="start" textLength="72.2" lengthAdjust="spacingAndGlyphs">parasitemia - isotype</text>
<line x1="370.40" y1="34.90" x2="389.50" y2="34.90" stroke="#28426c" stroke-width="1.75"/>
<path d="M377.30,32.95L383.30,32.95L380.30,37.63Z" fill="#28426c"/>
<text transform="translate(392.80 37.60)" font-size="7.8" fill="#151515" stroke="#151515" stroke-width="0.1" text-anchor="start">parasitemia - &#945;CD41</text>
<line x1="370.40" y1="44.00" x2="389.50" y2="44.00" stroke="#5f9c42" stroke-width="1.75"/>
<circle cx="380.30" cy="44.00" r="2.50" fill="#fff" stroke="#5f9c42" stroke-width="1.1"/>
<text transform="translate(392.80 46.70)" font-size="7.8" fill="#151515" stroke="#151515" stroke-width="0.1" text-anchor="start" textLength="77.5" lengthAdjust="spacingAndGlyphs">platelet count - isotype</text>
<line x1="370.40" y1="53.10" x2="389.50" y2="53.10" stroke="#40245a" stroke-width="1.75"/>
<path d="M377.30,51.15L383.30,51.15L380.30,55.83Z" fill="#fff" stroke="#40245a" stroke-width="1.1" stroke-linejoin="miter"/>
<text transform="translate(392.80 55.80)" font-size="7.8" fill="#151515" stroke="#151515" stroke-width="0.1" text-anchor="start">platelet count - &#945;CD41</text>
<text transform="translate(7.80 208.00) scale(0.9 1)" font-size="12.2" fill="#151515" stroke="#151515" stroke-width="0" text-anchor="start" font-weight="bold">C</text>
<line x1="57.70" y1="218.50" x2="57.70" y2="342.20" stroke="#151515" stroke-width="1.3"/>
<line x1="54.60" y1="339.20" x2="219.40" y2="339.20" stroke="#151515" stroke-width="1.3"/>
<line x1="57.70" y1="339.20" x2="54.50" y2="339.20" stroke="#151515" stroke-width="1.1"/>
<line x1="57.70" y1="330.32" x2="55.90" y2="330.32" stroke="#151515" stroke-width="0.9"/>
<line x1="57.70" y1="325.12" x2="55.90" y2="325.12" stroke="#151515" stroke-width="0.9"/>
<line x1="57.70" y1="321.44" x2="55.90" y2="321.44" stroke="#151515" stroke-width="0.9"/>
<line x1="57.70" y1="318.58" x2="55.90" y2="318.58" stroke="#151515" stroke-width="0.9"/>
<line x1="57.70" y1="316.24" x2="55.90" y2="316.24" stroke="#151515" stroke-width="0.9"/>
<line x1="57.70" y1="314.27" x2="55.90" y2="314.27" stroke="#151515" stroke-width="0.9"/>
<line x1="57.70" y1="312.56" x2="55.90" y2="312.56" stroke="#151515" stroke-width="0.9"/>
<line x1="57.70" y1="311.05" x2="55.90" y2="311.05" stroke="#151515" stroke-width="0.9"/>
<line x1="57.70" y1="309.70" x2="54.50" y2="309.70" stroke="#151515" stroke-width="1.1"/>
<line x1="57.70" y1="300.82" x2="55.90" y2="300.82" stroke="#151515" stroke-width="0.9"/>
<line x1="57.70" y1="295.62" x2="55.90" y2="295.62" stroke="#151515" stroke-width="0.9"/>
<line x1="57.70" y1="291.94" x2="55.90" y2="291.94" stroke="#151515" stroke-width="0.9"/>
<line x1="57.70" y1="289.08" x2="55.90" y2="289.08" stroke="#151515" stroke-width="0.9"/>
<line x1="57.70" y1="286.74" x2="55.90" y2="286.74" stroke="#151515" stroke-width="0.9"/>
<line x1="57.70" y1="284.77" x2="55.90" y2="284.77" stroke="#151515" stroke-width="0.9"/>
<line x1="57.70" y1="283.06" x2="55.90" y2="283.06" stroke="#151515" stroke-width="0.9"/>
<line x1="57.70" y1="281.55" x2="55.90" y2="281.55" stroke="#151515" stroke-width="0.9"/>
<line x1="57.70" y1="280.20" x2="54.50" y2="280.20" stroke="#151515" stroke-width="1.1"/>
<line x1="57.70" y1="271.32" x2="55.90" y2="271.32" stroke="#151515" stroke-width="0.9"/>
<line x1="57.70" y1="266.12" x2="55.90" y2="266.12" stroke="#151515" stroke-width="0.9"/>
<line x1="57.70" y1="262.44" x2="55.90" y2="262.44" stroke="#151515" stroke-width="0.9"/>
<line x1="57.70" y1="259.58" x2="55.90" y2="259.58" stroke="#151515" stroke-width="0.9"/>
<line x1="57.70" y1="257.24" x2="55.90" y2="257.24" stroke="#151515" stroke-width="0.9"/>
<line x1="57.70" y1="255.27" x2="55.90" y2="255.27" stroke="#151515" stroke-width="0.9"/>
<line x1="57.70" y1="253.56" x2="55.90" y2="253.56" stroke="#151515" stroke-width="0.9"/>
<line x1="57.70" y1="252.05" x2="55.90" y2="252.05" stroke="#151515" stroke-width="0.9"/>
<line x1="57.70" y1="250.70" x2="54.50" y2="250.70" stroke="#151515" stroke-width="1.1"/>
<line x1="57.70" y1="241.82" x2="55.90" y2="241.82" stroke="#151515" stroke-width="0.9"/>
<line x1="57.70" y1="236.62" x2="55.90" y2="236.62" stroke="#151515" stroke-width="0.9"/>
<line x1="57.70" y1="232.94" x2="55.90" y2="232.94" stroke="#151515" stroke-width="0.9"/>
<line x1="57.70" y1="230.08" x2="55.90" y2="230.08" stroke="#151515" stroke-width="0.9"/>
<line x1="57.70" y1="227.74" x2="55.90" y2="227.74" stroke="#151515" stroke-width="0.9"/>
<line x1="57.70" y1="225.77" x2="55.90" y2="225.77" stroke="#151515" stroke-width="0.9"/>
<line x1="57.70" y1="224.06" x2="55.90" y2="224.06" stroke="#151515" stroke-width="0.9"/>
<line x1="57.70" y1="222.55" x2="55.90" y2="222.55" stroke="#151515" stroke-width="0.9"/>
<line x1="57.70" y1="221.20" x2="54.50" y2="221.20" stroke="#151515" stroke-width="1.1"/>
<line x1="57.70" y1="339.20" x2="57.70" y2="342.50" stroke="#151515" stroke-width="1.1"/>
<text transform="translate(57.70 352.30)" font-size="8.0" fill="#151515" stroke="#151515" stroke-width="0.2" text-anchor="middle">0</text>
<line x1="68.30" y1="339.20" x2="68.30" y2="341.20" stroke="#151515" stroke-width="0.9"/>
<line x1="78.90" y1="339.20" x2="78.90" y2="341.20" stroke="#151515" stroke-width="0.9"/>
<line x1="89.50" y1="339.20" x2="89.50" y2="341.20" stroke="#151515" stroke-width="0.9"/>
<line x1="100.10" y1="339.20" x2="100.10" y2="341.20" stroke="#151515" stroke-width="0.9"/>
<line x1="110.70" y1="339.20" x2="110.70" y2="342.50" stroke="#151515" stroke-width="1.1"/>
<text transform="translate(110.70 352.30)" font-size="8.0" fill="#151515" stroke="#151515" stroke-width="0.2" text-anchor="middle">10</text>
<line x1="121.30" y1="339.20" x2="121.30" y2="341.20" stroke="#151515" stroke-width="0.9"/>
<line x1="131.90" y1="339.20" x2="131.90" y2="341.20" stroke="#151515" stroke-width="0.9"/>
<line x1="142.50" y1="339.20" x2="142.50" y2="341.20" stroke="#151515" stroke-width="0.9"/>
<line x1="153.10" y1="339.20" x2="153.10" y2="341.20" stroke="#151515" stroke-width="0.9"/>
<line x1="163.70" y1="339.20" x2="163.70" y2="342.50" stroke="#151515" stroke-width="1.1"/>
<text transform="translate(163.70 352.30)" font-size="8.0" fill="#151515" stroke="#151515" stroke-width="0.2" text-anchor="middle">20</text>
<line x1="174.30" y1="339.20" x2="174.30" y2="341.20" stroke="#151515" stroke-width="0.9"/>
<line x1="184.90" y1="339.20" x2="184.90" y2="341.20" stroke="#151515" stroke-width="0.9"/>
<line x1="195.50" y1="339.20" x2="195.50" y2="341.20" stroke="#151515" stroke-width="0.9"/>
<line x1="206.10" y1="339.20" x2="206.10" y2="341.20" stroke="#151515" stroke-width="0.9"/>
<line x1="216.70" y1="339.20" x2="216.70" y2="342.50" stroke="#151515" stroke-width="1.1"/>
<text transform="translate(216.70 352.30)" font-size="8.0" fill="#151515" stroke="#151515" stroke-width="0.2" text-anchor="middle">30</text>
<text transform="translate(51.00 223.90)" font-size="8.0" fill="#151515" stroke="#151515" stroke-width="0.2" text-anchor="end">100</text>
<text transform="translate(51.00 253.40)" font-size="8.0" fill="#151515" stroke="#151515" stroke-width="0.2" text-anchor="end">10</text>
<text transform="translate(51.00 282.90)" font-size="8.0" fill="#151515" stroke="#151515" stroke-width="0.2" text-anchor="end">1</text>
<text transform="translate(51.00 312.40)" font-size="8.0" fill="#151515" stroke="#151515" stroke-width="0.2" text-anchor="end">0.1</text>
<text transform="translate(51.00 341.90)" font-size="8.0" fill="#151515" stroke="#151515" stroke-width="0.2" text-anchor="end">&gt;0.01</text>
<text transform="translate(138.40 366.80)" font-size="10.7" fill="#151515" stroke="#151515" stroke-width="0.2" text-anchor="middle" textLength="103.4" lengthAdjust="spacingAndGlyphs">Time (days post-infection)</text>
<text transform="translate(25.40 279.00) rotate(-90)" font-size="10.7" fill="#151515" stroke="#151515" stroke-width="0.2" text-anchor="middle" textLength="80.0" lengthAdjust="spacingAndGlyphs">Pca parasitemia (%)</text>
<line x1="131.90" y1="309.00" x2="131.90" y2="300.60" stroke="#151515" stroke-width="1.0"/>
<line x1="129.50" y1="300.60" x2="134.30" y2="300.60" stroke="#151515" stroke-width="1.1"/>
<line x1="78.90" y1="323.80" x2="78.90" y2="317.60" stroke="#151515" stroke-width="1.0"/>
<line x1="76.50" y1="317.60" x2="81.30" y2="317.60" stroke="#151515" stroke-width="1.1"/>
<line x1="110.70" y1="303.00" x2="110.70" y2="298.50" stroke="#151515" stroke-width="1.0"/>
<line x1="108.30" y1="298.50" x2="113.10" y2="298.50" stroke="#151515" stroke-width="1.1"/>
<line x1="110.70" y1="329.80" x2="110.70" y2="322.00" stroke="#151515" stroke-width="1.0"/>
<line x1="108.30" y1="322.00" x2="113.10" y2="322.00" stroke="#151515" stroke-width="1.1"/>
<line x1="169.00" y1="324.20" x2="169.00" y2="317.30" stroke="#151515" stroke-width="1.0"/>
<line x1="166.60" y1="317.30" x2="171.40" y2="317.30" stroke="#151515" stroke-width="1.1"/>
<line x1="206.10" y1="324.20" x2="206.10" y2="317.30" stroke="#151515" stroke-width="1.0"/>
<line x1="203.70" y1="317.30" x2="208.50" y2="317.30" stroke="#151515" stroke-width="1.1"/>
<polyline points="57.70,314.70 68.30,338.80 78.90,330.00 94.80,338.80 110.70,329.80 131.90,338.80" fill="none" stroke="#28426c" stroke-width="1.35" stroke-linejoin="round"/>
<circle cx="57.70" cy="314.70" r="2.40" fill="#28426c"/>
<circle cx="68.30" cy="338.80" r="2.40" fill="#28426c"/>
<circle cx="78.90" cy="330.00" r="2.40" fill="#28426c"/>
<circle cx="94.80" cy="338.80" r="2.40" fill="#28426c"/>
<circle cx="110.70" cy="329.80" r="2.40" fill="#28426c"/>
<circle cx="131.90" cy="338.80" r="2.40" fill="#28426c"/>
<polyline points="57.70,314.70 68.30,317.10 78.90,323.80 94.80,338.80 110.70,303.00 131.90,338.80 153.10,338.80 169.00,324.20 190.20,338.80 206.10,324.20" fill="none" stroke="#5f9c42" stroke-width="1.35" stroke-linejoin="round"/>
<path d="M54.70,312.75L60.70,312.75L57.70,317.43Z" fill="#5f9c42"/>
<path d="M65.30,315.15L71.30,315.15L68.30,319.83Z" fill="#5f9c42"/>
<path d="M75.90,321.85L81.90,321.85L78.90,326.53Z" fill="#5f9c42"/>
<path d="M91.80,336.85L97.80,336.85L94.80,341.53Z" fill="#5f9c42"/>
<path d="M107.70,301.05L113.70,301.05L110.70,305.73Z" fill="#5f9c42"/>
<path d="M128.90,336.85L134.90,336.85L131.90,341.53Z" fill="#5f9c42"/>
<path d="M150.10,336.85L156.10,336.85L153.10,341.53Z" fill="#5f9c42"/>
<path d="M166.00,322.25L172.00,322.25L169.00,326.93Z" fill="#5f9c42"/>
<path d="M187.20,336.85L193.20,336.85L190.20,341.53Z" fill="#5f9c42"/>
<path d="M203.10,322.25L209.10,322.25L206.10,326.93Z" fill="#5f9c42"/>
<polyline points="57.70,314.70 68.30,259.90 78.90,242.60 94.80,245.40 110.70,248.20 131.90,309.00 153.10,338.80 169.00,338.80 190.20,338.80 206.10,338.80" fill="none" stroke="#ab0f39" stroke-width="1.35" stroke-linejoin="round"/>
<rect x="54.90" y="311.90" width="5.60" height="5.60" fill="#ab0f39"/>
<rect x="65.50" y="257.10" width="5.60" height="5.60" fill="#ab0f39"/>
<rect x="76.10" y="239.80" width="5.60" height="5.60" fill="#ab0f39"/>
<rect x="92.00" y="242.60" width="5.60" height="5.60" fill="#ab0f39"/>
<rect x="107.90" y="245.40" width="5.60" height="5.60" fill="#ab0f39"/>
<rect x="129.10" y="306.20" width="5.60" height="5.60" fill="#ab0f39"/>
<rect x="150.30" y="336.00" width="5.60" height="5.60" fill="#ab0f39"/>
<rect x="166.20" y="336.00" width="5.60" height="5.60" fill="#ab0f39"/>
<rect x="187.40" y="336.00" width="5.60" height="5.60" fill="#ab0f39"/>
<rect x="203.30" y="336.00" width="5.60" height="5.60" fill="#ab0f39"/>
<line x1="144.00" y1="238.60" x2="163.10" y2="238.60" stroke="#ab0f39" stroke-width="1.35"/>
<rect x="150.80" y="235.80" width="5.60" height="5.60" fill="#ab0f39"/>
<text transform="translate(166.80 241.30)" font-size="7.8" fill="#151515" stroke="#151515" stroke-width="0.1" text-anchor="start" textLength="24.9" lengthAdjust="spacingAndGlyphs">primary</text>
<line x1="144.00" y1="249.00" x2="163.10" y2="249.00" stroke="#28426c" stroke-width="1.35"/>
<circle cx="153.60" cy="249.00" r="2.40" fill="#28426c"/>
<text transform="translate(166.80 251.70)" font-size="7.8" fill="#151515" stroke="#151515" stroke-width="0.1" text-anchor="start" textLength="23.7" lengthAdjust="spacingAndGlyphs">isotype</text>
<line x1="144.00" y1="259.40" x2="163.10" y2="259.40" stroke="#5f9c42" stroke-width="1.35"/>
<path d="M150.60,257.45L156.60,257.45L153.60,262.13Z" fill="#5f9c42"/>
<text transform="translate(166.80 262.10)" font-size="7.8" fill="#151515" stroke="#151515" stroke-width="0.1" text-anchor="start" textLength="25.7" lengthAdjust="spacingAndGlyphs">a-CD41</text>
<text transform="translate(268.90 207.70) scale(0.9 1)" font-size="12.2" fill="#151515" stroke="#151515" stroke-width="0" text-anchor="start" font-weight="bold">D</text>
<line x1="318.20" y1="218.50" x2="318.20" y2="342.20" stroke="#151515" stroke-width="1.3"/>
<line x1="315.10" y1="339.20" x2="479.20" y2="339.20" stroke="#151515" stroke-width="1.3"/>
<line x1="318.20" y1="339.20" x2="315.00" y2="339.20" stroke="#151515" stroke-width="1.1"/>
<line x1="318.20" y1="330.32" x2="316.40" y2="330.32" stroke="#151515" stroke-width="0.9"/>
<line x1="318.20" y1="325.12" x2="316.40" y2="325.12" stroke="#151515" stroke-width="0.9"/>
<line x1="318.20" y1="321.44" x2="316.40" y2="321.44" stroke="#151515" stroke-width="0.9"/>
<line x1="318.20" y1="318.58" x2="316.40" y2="318.58" stroke="#151515" stroke-width="0.9"/>
<line x1="318.20" y1="316.24" x2="316.40" y2="316.24" stroke="#151515" stroke-width="0.9"/>
<line x1="318.20" y1="314.27" x2="316.40" y2="314.27" stroke="#151515" stroke-width="0.9"/>
<line x1="318.20" y1="312.56" x2="316.40" y2="312.56" stroke="#151515" stroke-width="0.9"/>
<line x1="318.20" y1="311.05" x2="316.40" y2="311.05" stroke="#151515" stroke-width="0.9"/>
<line x1="318.20" y1="309.70" x2="315.00" y2="309.70" stroke="#151515" stroke-width="1.1"/>
<line x1="318.20" y1="300.82" x2="316.40" y2="300.82" stroke="#151515" stroke-width="0.9"/>
<line x1="318.20" y1="295.62" x2="316.40" y2="295.62" stroke="#151515" stroke-width="0.9"/>
<line x1="318.20" y1="291.94" x2="316.40" y2="291.94" stroke="#151515" stroke-width="0.9"/>
<line x1="318.20" y1="289.08" x2="316.40" y2="289.08" stroke="#151515" stroke-width="0.9"/>
<line x1="318.20" y1="286.74" x2="316.40" y2="286.74" stroke="#151515" stroke-width="0.9"/>
<line x1="318.20" y1="284.77" x2="316.40" y2="284.77" stroke="#151515" stroke-width="0.9"/>
<line x1="318.20" y1="283.06" x2="316.40" y2="283.06" stroke="#151515" stroke-width="0.9"/>
<line x1="318.20" y1="281.55" x2="316.40" y2="281.55" stroke="#151515" stroke-width="0.9"/>
<line x1="318.20" y1="280.20" x2="315.00" y2="280.20" stroke="#151515" stroke-width="1.1"/>
<line x1="318.20" y1="271.32" x2="316.40" y2="271.32" stroke="#151515" stroke-width="0.9"/>
<line x1="318.20" y1="266.12" x2="316.40" y2="266.12" stroke="#151515" stroke-width="0.9"/>
<line x1="318.20" y1="262.44" x2="316.40" y2="262.44" stroke="#151515" stroke-width="0.9"/>
<line x1="318.20" y1="259.58" x2="316.40" y2="259.58" stroke="#151515" stroke-width="0.9"/>
<line x1="318.20" y1="257.24" x2="316.40" y2="257.24" stroke="#151515" stroke-width="0.9"/>
<line x1="318.20" y1="255.27" x2="316.40" y2="255.27" stroke="#151515" stroke-width="0.9"/>
<line x1="318.20" y1="253.56" x2="316.40" y2="253.56" stroke="#151515" stroke-width="0.9"/>
<line x1="318.20" y1="252.05" x2="316.40" y2="252.05" stroke="#151515" stroke-width="0.9"/>
<line x1="318.20" y1="250.70" x2="315.00" y2="250.70" stroke="#151515" stroke-width="1.1"/>
<line x1="318.20" y1="241.82" x2="316.40" y2="241.82" stroke="#151515" stroke-width="0.9"/>
<line x1="318.20" y1="236.62" x2="316.40" y2="236.62" stroke="#151515" stroke-width="0.9"/>
<line x1="318.20" y1="232.94" x2="316.40" y2="232.94" stroke="#151515" stroke-width="0.9"/>
<line x1="318.20" y1="230.08" x2="316.40" y2="230.08" stroke="#151515" stroke-width="0.9"/>
<line x1="318.20" y1="227.74" x2="316.40" y2="227.74" stroke="#151515" stroke-width="0.9"/>
<line x1="318.20" y1="225.77" x2="316.40" y2="225.77" stroke="#151515" stroke-width="0.9"/>
<line x1="318.20" y1="224.06" x2="316.40" y2="224.06" stroke="#151515" stroke-width="0.9"/>
<line x1="318.20" y1="222.55" x2="316.40" y2="222.55" stroke="#151515" stroke-width="0.9"/>
<line x1="318.20" y1="221.20" x2="315.00" y2="221.20" stroke="#151515" stroke-width="1.1"/>
<line x1="318.70" y1="339.20" x2="318.70" y2="341.20" stroke="#151515" stroke-width="0.9"/>
<line x1="325.90" y1="339.20" x2="325.90" y2="341.20" stroke="#151515" stroke-width="0.9"/>
<line x1="333.10" y1="339.20" x2="333.10" y2="342.50" stroke="#151515" stroke-width="1.1"/>
<text transform="translate(333.10 352.30)" font-size="8.0" fill="#151515" stroke="#151515" stroke-width="0.2" text-anchor="middle">0</text>
<line x1="340.30" y1="339.20" x2="340.30" y2="341.20" stroke="#151515" stroke-width="0.9"/>
<line x1="347.50" y1="339.20" x2="347.50" y2="341.20" stroke="#151515" stroke-width="0.9"/>
<line x1="354.70" y1="339.20" x2="354.70" y2="341.20" stroke="#151515" stroke-width="0.9"/>
<line x1="361.90" y1="339.20" x2="361.90" y2="341.20" stroke="#151515" stroke-width="0.9"/>
<line x1="369.10" y1="339.20" x2="369.10" y2="342.50" stroke="#151515" stroke-width="1.1"/>
<text transform="translate(369.10 352.30)" font-size="8.0" fill="#151515" stroke="#151515" stroke-width="0.2" text-anchor="middle">5</text>
<line x1="376.30" y1="339.20" x2="376.30" y2="341.20" stroke="#151515" stroke-width="0.9"/>
<line x1="383.50" y1="339.20" x2="383.50" y2="341.20" stroke="#151515" stroke-width="0.9"/>
<line x1="390.70" y1="339.20" x2="390.70" y2="341.20" stroke="#151515" stroke-width="0.9"/>
<line x1="397.90" y1="339.20" x2="397.90" y2="341.20" stroke="#151515" stroke-width="0.9"/>
<line x1="405.10" y1="339.20" x2="405.10" y2="342.50" stroke="#151515" stroke-width="1.1"/>
<text transform="translate(405.10 352.30)" font-size="8.0" fill="#151515" stroke="#151515" stroke-width="0.2" text-anchor="middle">10</text>
<line x1="412.30" y1="339.20" x2="412.30" y2="341.20" stroke="#151515" stroke-width="0.9"/>
<line x1="419.50" y1="339.20" x2="419.50" y2="341.20" stroke="#151515" stroke-width="0.9"/>
<line x1="426.70" y1="339.20" x2="426.70" y2="341.20" stroke="#151515" stroke-width="0.9"/>
<line x1="433.90" y1="339.20" x2="433.90" y2="341.20" stroke="#151515" stroke-width="0.9"/>
<line x1="441.10" y1="339.20" x2="441.10" y2="342.50" stroke="#151515" stroke-width="1.1"/>
<text transform="translate(441.10 352.30)" font-size="8.0" fill="#151515" stroke="#151515" stroke-width="0.2" text-anchor="middle">15</text>
<line x1="448.30" y1="339.20" x2="448.30" y2="341.20" stroke="#151515" stroke-width="0.9"/>
<line x1="455.50" y1="339.20" x2="455.50" y2="341.20" stroke="#151515" stroke-width="0.9"/>
<line x1="462.70" y1="339.20" x2="462.70" y2="341.20" stroke="#151515" stroke-width="0.9"/>
<line x1="469.90" y1="339.20" x2="469.90" y2="341.20" stroke="#151515" stroke-width="0.9"/>
<line x1="477.10" y1="339.20" x2="477.10" y2="342.50" stroke="#151515" stroke-width="1.1"/>
<text transform="translate(477.10 352.30)" font-size="8.0" fill="#151515" stroke="#151515" stroke-width="0.2" text-anchor="middle">20</text>
<text transform="translate(311.60 223.90)" font-size="8.0" fill="#151515" stroke="#151515" stroke-width="0.2" text-anchor="end">100</text>
<text transform="translate(311.60 253.40)" font-size="8.0" fill="#151515" stroke="#151515" stroke-width="0.2" text-anchor="end">10</text>
<text transform="translate(311.60 282.90)" font-size="8.0" fill="#151515" stroke="#151515" stroke-width="0.2" text-anchor="end">1</text>
<text transform="translate(311.60 312.40)" font-size="8.0" fill="#151515" stroke="#151515" stroke-width="0.2" text-anchor="end">0.1</text>
<text transform="translate(311.60 341.90)" font-size="8.0" fill="#151515" stroke="#151515" stroke-width="0.2" text-anchor="end">&gt;0.01</text>
<text transform="translate(399.00 366.80)" font-size="10.7" fill="#151515" stroke="#151515" stroke-width="0.2" text-anchor="middle" textLength="103.4" lengthAdjust="spacingAndGlyphs">Time (days post-infection)</text>
<text transform="translate(285.90 279.00) rotate(-90)" font-size="10.7" fill="#151515" stroke="#151515" stroke-width="0.2" text-anchor="middle" textLength="80.0" lengthAdjust="spacingAndGlyphs">Pca parasitemia (%)</text>
<line x1="325.90" y1="321.50" x2="325.90" y2="334.50" stroke="#151515" stroke-width="1.2"/>
<path d="M323.30,333.40L328.50,333.40L325.90,339.30Z" fill="#151515"/>
<line x1="333.10" y1="321.50" x2="333.10" y2="334.50" stroke="#151515" stroke-width="1.2"/>
<path d="M330.50,333.40L335.70,333.40L333.10,339.30Z" fill="#151515"/>
<text transform="translate(329.60 317.20)" font-size="7.6" fill="#151515" stroke="#151515" stroke-width="0.2" text-anchor="middle" textLength="12.3" lengthAdjust="spacingAndGlyphs">plts</text>
<line x1="361.90" y1="282.30" x2="361.90" y2="275.40" stroke="#151515" stroke-width="1.0"/>
<line x1="359.50" y1="275.40" x2="364.30" y2="275.40" stroke="#151515" stroke-width="1.1"/>
<line x1="361.90" y1="282.30" x2="361.90" y2="289.80" stroke="#151515" stroke-width="1.0"/>
<line x1="359.50" y1="289.80" x2="364.30" y2="289.80" stroke="#151515" stroke-width="1.1"/>
<line x1="376.30" y1="254.10" x2="376.30" y2="250.10" stroke="#151515" stroke-width="1.0"/>
<line x1="373.90" y1="250.10" x2="378.70" y2="250.10" stroke="#151515" stroke-width="1.1"/>
<line x1="376.30" y1="260.10" x2="376.30" y2="266.80" stroke="#151515" stroke-width="1.0"/>
<line x1="373.90" y1="266.80" x2="378.70" y2="266.80" stroke="#151515" stroke-width="1.1"/>
<line x1="441.10" y1="238.00" x2="441.10" y2="243.40" stroke="#151515" stroke-width="1.0"/>
<line x1="438.70" y1="243.40" x2="443.50" y2="243.40" stroke="#151515" stroke-width="1.1"/>
<line x1="455.50" y1="238.00" x2="455.50" y2="234.50" stroke="#151515" stroke-width="1.0"/>
<line x1="453.10" y1="234.50" x2="457.90" y2="234.50" stroke="#151515" stroke-width="1.1"/>
<line x1="441.10" y1="313.50" x2="441.10" y2="308.50" stroke="#151515" stroke-width="1.0"/>
<line x1="438.70" y1="308.50" x2="443.50" y2="308.50" stroke="#151515" stroke-width="1.1"/>
<line x1="441.10" y1="313.50" x2="441.10" y2="322.30" stroke="#151515" stroke-width="1.0"/>
<line x1="438.70" y1="322.30" x2="443.50" y2="322.30" stroke="#151515" stroke-width="1.1"/>
<line x1="455.50" y1="333.80" x2="455.50" y2="325.40" stroke="#151515" stroke-width="1.0"/>
<line x1="453.10" y1="325.40" x2="457.90" y2="325.40" stroke="#151515" stroke-width="1.1"/>
<line x1="469.90" y1="324.90" x2="469.90" y2="316.60" stroke="#151515" stroke-width="1.0"/>
<line x1="467.50" y1="316.60" x2="472.30" y2="316.60" stroke="#151515" stroke-width="1.1"/>
<circle cx="441.10" cy="304.30" r="1.1" fill="#151515"/>
<circle cx="455.50" cy="321.80" r="1.1" fill="#151515"/>
<circle cx="469.90" cy="312.00" r="1.1" fill="#151515"/>
<polyline points="390.70,242.50 405.10,251.40 426.70,248.80 441.10,313.50 455.50,333.80 469.90,324.90" fill="none" stroke="#5f9c42" stroke-width="1.5" stroke-linejoin="round"/>
<circle cx="390.70" cy="242.50" r="2.40" fill="#5f9c42"/>
<circle cx="405.10" cy="251.40" r="2.40" fill="#5f9c42"/>
<circle cx="426.70" cy="248.80" r="2.40" fill="#5f9c42"/>
<circle cx="441.10" cy="313.50" r="2.40" fill="#5f9c42"/>
<circle cx="455.50" cy="333.80" r="2.40" fill="#5f9c42"/>
<circle cx="469.90" cy="324.90" r="2.40" fill="#5f9c42"/>
<polyline points="361.90,280.00 376.30,254.10 390.70,240.00 405.10,242.20 426.70,241.60 441.10,238.30 455.50,238.30 469.90,244.70" fill="none" stroke="#28426c" stroke-width="1.5" stroke-linejoin="round"/>
<rect x="359.30" y="277.40" width="5.20" height="5.20" fill="#fff" stroke="#28426c" stroke-width="1.2"/>
<rect x="373.70" y="251.50" width="5.20" height="5.20" fill="#fff" stroke="#28426c" stroke-width="1.2"/>
<rect x="388.10" y="237.40" width="5.20" height="5.20" fill="#fff" stroke="#28426c" stroke-width="1.2"/>
<rect x="402.50" y="239.60" width="5.20" height="5.20" fill="#fff" stroke="#28426c" stroke-width="1.2"/>
<rect x="424.10" y="239.00" width="5.20" height="5.20" fill="#fff" stroke="#28426c" stroke-width="1.2"/>
<rect x="438.50" y="235.70" width="5.20" height="5.20" fill="#fff" stroke="#28426c" stroke-width="1.2"/>
<rect x="452.90" y="235.70" width="5.20" height="5.20" fill="#fff" stroke="#28426c" stroke-width="1.2"/>
<rect x="467.30" y="242.10" width="5.20" height="5.20" fill="#fff" stroke="#28426c" stroke-width="1.2"/>
<polyline points="361.90,282.30 376.30,260.10 390.70,240.30 405.10,240.00 426.70,240.00 441.10,238.00 455.50,238.00 469.90,244.90" fill="none" stroke="#ab0f39" stroke-width="1.5" stroke-linejoin="round"/>
<rect x="359.10" y="279.50" width="5.60" height="5.60" fill="#ab0f39"/>
<rect x="373.50" y="257.30" width="5.60" height="5.60" fill="#ab0f39"/>
<rect x="387.90" y="237.50" width="5.60" height="5.60" fill="#ab0f39"/>
<rect x="402.30" y="237.20" width="5.60" height="5.60" fill="#ab0f39"/>
<rect x="423.90" y="237.20" width="5.60" height="5.60" fill="#ab0f39"/>
<rect x="438.30" y="235.20" width="5.60" height="5.60" fill="#ab0f39"/>
<rect x="452.70" y="235.20" width="5.60" height="5.60" fill="#ab0f39"/>
<rect x="467.10" y="242.10" width="5.60" height="5.60" fill="#ab0f39"/>
<line x1="323.50" y1="221.30" x2="342.70" y2="221.30" stroke="#ab0f39" stroke-width="1.5"/>
<rect x="330.40" y="218.50" width="5.60" height="5.60" fill="#ab0f39"/>
<text transform="translate(345.80 224.00)" font-size="7.8" fill="#151515" stroke="#151515" stroke-width="0.1" text-anchor="start" textLength="45.4" lengthAdjust="spacingAndGlyphs">CD40KO+plts</text>
<line x1="323.50" y1="229.50" x2="342.70" y2="229.50" stroke="#28426c" stroke-width="1.5"/>
<rect x="330.60" y="226.90" width="5.20" height="5.20" fill="#fff" stroke="#28426c" stroke-width="1.2"/>
<text transform="translate(345.80 232.20)" font-size="7.8" fill="#151515" stroke="#151515" stroke-width="0.1" text-anchor="start" textLength="29.6" lengthAdjust="spacingAndGlyphs">CD40KO</text>
<line x1="323.50" y1="237.90" x2="342.70" y2="237.90" stroke="#5f9c42" stroke-width="1.5"/>
<circle cx="333.20" cy="237.90" r="2.40" fill="#5f9c42"/>
<text transform="translate(345.80 240.60)" font-size="7.8" fill="#151515" stroke="#151515" stroke-width="0.1" text-anchor="start" textLength="28.8" lengthAdjust="spacingAndGlyphs">C57BL/6</text>
<text transform="translate(154.80 397.60) scale(0.9 1)" font-size="12.2" fill="#151515" stroke="#151515" stroke-width="0" text-anchor="start" font-weight="bold">E</text>
<line x1="202.40" y1="408.60" x2="202.40" y2="531.80" stroke="#151515" stroke-width="1.3"/>
<line x1="199.40" y1="528.70" x2="363.40" y2="528.70" stroke="#151515" stroke-width="1.3"/>
<line x1="202.40" y1="528.70" x2="199.20" y2="528.70" stroke="#151515" stroke-width="1.1"/>
<line x1="202.40" y1="519.85" x2="200.60" y2="519.85" stroke="#151515" stroke-width="0.9"/>
<line x1="202.40" y1="514.67" x2="200.60" y2="514.67" stroke="#151515" stroke-width="0.9"/>
<line x1="202.40" y1="511.00" x2="200.60" y2="511.00" stroke="#151515" stroke-width="0.9"/>
<line x1="202.40" y1="508.15" x2="200.60" y2="508.15" stroke="#151515" stroke-width="0.9"/>
<line x1="202.40" y1="505.82" x2="200.60" y2="505.82" stroke="#151515" stroke-width="0.9"/>
<line x1="202.40" y1="503.85" x2="200.60" y2="503.85" stroke="#151515" stroke-width="0.9"/>
<line x1="202.40" y1="502.15" x2="200.60" y2="502.15" stroke="#151515" stroke-width="0.9"/>
<line x1="202.40" y1="500.65" x2="200.60" y2="500.65" stroke="#151515" stroke-width="0.9"/>
<line x1="202.40" y1="499.30" x2="199.20" y2="499.30" stroke="#151515" stroke-width="1.1"/>
<line x1="202.40" y1="490.45" x2="200.60" y2="490.45" stroke="#151515" stroke-width="0.9"/>
<line x1="202.40" y1="485.27" x2="200.60" y2="485.27" stroke="#151515" stroke-width="0.9"/>
<line x1="202.40" y1="481.60" x2="200.60" y2="481.60" stroke="#151515" stroke-width="0.9"/>
<line x1="202.40" y1="478.75" x2="200.60" y2="478.75" stroke="#151515" stroke-width="0.9"/>
<line x1="202.40" y1="476.42" x2="200.60" y2="476.42" stroke="#151515" stroke-width="0.9"/>
<line x1="202.40" y1="474.45" x2="200.60" y2="474.45" stroke="#151515" stroke-width="0.9"/>
<line x1="202.40" y1="472.75" x2="200.60" y2="472.75" stroke="#151515" stroke-width="0.9"/>
<line x1="202.40" y1="471.25" x2="200.60" y2="471.25" stroke="#151515" stroke-width="0.9"/>
<line x1="202.40" y1="469.90" x2="199.20" y2="469.90" stroke="#151515" stroke-width="1.1"/>
<line x1="202.40" y1="461.05" x2="200.60" y2="461.05" stroke="#151515" stroke-width="0.9"/>
<line x1="202.40" y1="455.87" x2="200.60" y2="455.87" stroke="#151515" stroke-width="0.9"/>
<line x1="202.40" y1="452.20" x2="200.60" y2="452.20" stroke="#151515" stroke-width="0.9"/>
<line x1="202.40" y1="449.35" x2="200.60" y2="449.35" stroke="#151515" stroke-width="0.9"/>
<line x1="202.40" y1="447.02" x2="200.60" y2="447.02" stroke="#151515" stroke-width="0.9"/>
<line x1="202.40" y1="445.05" x2="200.60" y2="445.05" stroke="#151515" stroke-width="0.9"/>
<line x1="202.40" y1="443.35" x2="200.60" y2="443.35" stroke="#151515" stroke-width="0.9"/>
<line x1="202.40" y1="441.85" x2="200.60" y2="441.85" stroke="#151515" stroke-width="0.9"/>
<line x1="202.40" y1="440.50" x2="199.20" y2="440.50" stroke="#151515" stroke-width="1.1"/>
<line x1="202.40" y1="431.65" x2="200.60" y2="431.65" stroke="#151515" stroke-width="0.9"/>
<line x1="202.40" y1="426.47" x2="200.60" y2="426.47" stroke="#151515" stroke-width="0.9"/>
<line x1="202.40" y1="422.80" x2="200.60" y2="422.80" stroke="#151515" stroke-width="0.9"/>
<line x1="202.40" y1="419.95" x2="200.60" y2="419.95" stroke="#151515" stroke-width="0.9"/>
<line x1="202.40" y1="417.62" x2="200.60" y2="417.62" stroke="#151515" stroke-width="0.9"/>
<line x1="202.40" y1="415.65" x2="200.60" y2="415.65" stroke="#151515" stroke-width="0.9"/>
<line x1="202.40" y1="413.95" x2="200.60" y2="413.95" stroke="#151515" stroke-width="0.9"/>
<line x1="202.40" y1="412.45" x2="200.60" y2="412.45" stroke="#151515" stroke-width="0.9"/>
<line x1="202.40" y1="411.10" x2="199.20" y2="411.10" stroke="#151515" stroke-width="1.1"/>
<line x1="202.80" y1="528.70" x2="202.80" y2="532.00" stroke="#151515" stroke-width="1.1"/>
<text transform="translate(202.80 541.80)" font-size="8.0" fill="#151515" stroke="#151515" stroke-width="0.2" text-anchor="middle">0</text>
<line x1="213.38" y1="528.70" x2="213.38" y2="530.70" stroke="#151515" stroke-width="0.9"/>
<line x1="223.96" y1="528.70" x2="223.96" y2="530.70" stroke="#151515" stroke-width="0.9"/>
<line x1="234.54" y1="528.70" x2="234.54" y2="530.70" stroke="#151515" stroke-width="0.9"/>
<line x1="245.12" y1="528.70" x2="245.12" y2="530.70" stroke="#151515" stroke-width="0.9"/>
<line x1="255.70" y1="528.70" x2="255.70" y2="532.00" stroke="#151515" stroke-width="1.1"/>
<text transform="translate(255.70 541.80)" font-size="8.0" fill="#151515" stroke="#151515" stroke-width="0.2" text-anchor="middle">10</text>
<line x1="266.28" y1="528.70" x2="266.28" y2="530.70" stroke="#151515" stroke-width="0.9"/>
<line x1="276.86" y1="528.70" x2="276.86" y2="530.70" stroke="#151515" stroke-width="0.9"/>
<line x1="287.44" y1="528.70" x2="287.44" y2="530.70" stroke="#151515" stroke-width="0.9"/>
<line x1="298.02" y1="528.70" x2="298.02" y2="530.70" stroke="#151515" stroke-width="0.9"/>
<line x1="308.60" y1="528.70" x2="308.60" y2="532.00" stroke="#151515" stroke-width="1.1"/>
<text transform="translate(308.60 541.80)" font-size="8.0" fill="#151515" stroke="#151515" stroke-width="0.2" text-anchor="middle">20</text>
<line x1="319.18" y1="528.70" x2="319.18" y2="530.70" stroke="#151515" stroke-width="0.9"/>
<line x1="329.76" y1="528.70" x2="329.76" y2="530.70" stroke="#151515" stroke-width="0.9"/>
<line x1="340.34" y1="528.70" x2="340.34" y2="530.70" stroke="#151515" stroke-width="0.9"/>
<line x1="350.92" y1="528.70" x2="350.92" y2="530.70" stroke="#151515" stroke-width="0.9"/>
<line x1="361.50" y1="528.70" x2="361.50" y2="532.00" stroke="#151515" stroke-width="1.1"/>
<text transform="translate(361.50 541.80)" font-size="8.0" fill="#151515" stroke="#151515" stroke-width="0.2" text-anchor="middle">30</text>
<text transform="translate(196.00 413.80)" font-size="8.0" fill="#151515" stroke="#151515" stroke-width="0.2" text-anchor="end">100</text>
<text transform="translate(196.00 443.20)" font-size="8.0" fill="#151515" stroke="#151515" stroke-width="0.2" text-anchor="end">10</text>
<text transform="translate(196.00 472.60)" font-size="8.0" fill="#151515" stroke="#151515" stroke-width="0.2" text-anchor="end">1</text>
<text transform="translate(196.00 502.00)" font-size="8.0" fill="#151515" stroke="#151515" stroke-width="0.2" text-anchor="end">0.1</text>
<text transform="translate(196.00 531.40)" font-size="8.0" fill="#151515" stroke="#151515" stroke-width="0.2" text-anchor="end">0.01</text>
<text transform="translate(282.90 557.40)" font-size="10.7" fill="#151515" stroke="#151515" stroke-width="0.2" text-anchor="middle" textLength="101.4" lengthAdjust="spacingAndGlyphs">Time (days post-infection)</text>
<text transform="translate(175.40 468.20) rotate(-90)" font-size="10.7" fill="#151515" stroke="#151515" stroke-width="0.2" text-anchor="middle" textLength="80.0" lengthAdjust="spacingAndGlyphs">Pca parasitemia (%)</text>
<line x1="213.38" y1="462.60" x2="213.38" y2="457.90" stroke="#151515" stroke-width="1.0"/>
<line x1="210.78" y1="457.90" x2="215.98" y2="457.90" stroke="#151515" stroke-width="1.1"/>
<line x1="213.38" y1="462.60" x2="213.38" y2="471.90" stroke="#151515" stroke-width="1.0"/>
<line x1="210.78" y1="471.90" x2="215.98" y2="471.90" stroke="#151515" stroke-width="1.1"/>
<line x1="213.38" y1="490.40" x2="213.38" y2="503.30" stroke="#151515" stroke-width="1.0"/>
<line x1="210.78" y1="503.30" x2="215.98" y2="503.30" stroke="#151515" stroke-width="1.1"/>
<line x1="223.96" y1="448.70" x2="223.96" y2="444.30" stroke="#151515" stroke-width="1.0"/>
<line x1="221.36" y1="444.30" x2="226.56" y2="444.30" stroke="#151515" stroke-width="1.1"/>
<line x1="223.96" y1="462.00" x2="223.96" y2="458.50" stroke="#151515" stroke-width="1.0"/>
<line x1="221.36" y1="458.50" x2="226.56" y2="458.50" stroke="#151515" stroke-width="1.1"/>
<line x1="223.96" y1="435.90" x2="223.96" y2="432.30" stroke="#151515" stroke-width="1.0"/>
<line x1="221.36" y1="432.30" x2="226.56" y2="432.30" stroke="#151515" stroke-width="1.1"/>
<line x1="223.96" y1="435.90" x2="223.96" y2="440.20" stroke="#151515" stroke-width="1.0"/>
<line x1="221.36" y1="440.20" x2="226.56" y2="440.20" stroke="#151515" stroke-width="1.1"/>
<line x1="239.83" y1="435.90" x2="239.83" y2="432.50" stroke="#151515" stroke-width="1.0"/>
<line x1="237.23" y1="432.50" x2="242.43" y2="432.50" stroke="#151515" stroke-width="1.1"/>
<line x1="239.83" y1="435.90" x2="239.83" y2="440.00" stroke="#151515" stroke-width="1.0"/>
<line x1="237.23" y1="440.00" x2="242.43" y2="440.00" stroke="#151515" stroke-width="1.1"/>
<line x1="239.83" y1="490.50" x2="239.83" y2="480.00" stroke="#151515" stroke-width="1.0"/>
<line x1="237.23" y1="480.00" x2="242.43" y2="480.00" stroke="#151515" stroke-width="1.1"/>
<line x1="239.83" y1="498.60" x2="239.83" y2="506.00" stroke="#151515" stroke-width="1.0"/>
<line x1="237.23" y1="506.00" x2="242.43" y2="506.00" stroke="#151515" stroke-width="1.1"/>
<line x1="255.70" y1="507.50" x2="255.70" y2="495.40" stroke="#151515" stroke-width="1.0"/>
<line x1="253.10" y1="495.40" x2="258.30" y2="495.40" stroke="#151515" stroke-width="1.1"/>
<line x1="255.70" y1="477.30" x2="255.70" y2="474.00" stroke="#151515" stroke-width="1.0"/>
<line x1="253.10" y1="474.00" x2="258.30" y2="474.00" stroke="#151515" stroke-width="1.1"/>
<line x1="255.70" y1="477.30" x2="255.70" y2="483.70" stroke="#151515" stroke-width="1.0"/>
<line x1="253.10" y1="483.70" x2="258.30" y2="483.70" stroke="#151515" stroke-width="1.1"/>
<line x1="276.86" y1="480.90" x2="276.86" y2="475.80" stroke="#151515" stroke-width="1.0"/>
<line x1="274.26" y1="475.80" x2="279.46" y2="475.80" stroke="#151515" stroke-width="1.1"/>
<line x1="276.86" y1="480.90" x2="276.86" y2="491.80" stroke="#151515" stroke-width="1.0"/>
<line x1="274.26" y1="491.80" x2="279.46" y2="491.80" stroke="#151515" stroke-width="1.1"/>
<line x1="298.02" y1="442.50" x2="298.02" y2="439.50" stroke="#151515" stroke-width="1.0"/>
<line x1="295.42" y1="439.50" x2="300.62" y2="439.50" stroke="#151515" stroke-width="1.1"/>
<line x1="298.02" y1="459.80" x2="298.02" y2="450.70" stroke="#151515" stroke-width="1.0"/>
<line x1="295.42" y1="450.70" x2="300.62" y2="450.70" stroke="#151515" stroke-width="1.1"/>
<line x1="313.89" y1="432.90" x2="313.89" y2="429.20" stroke="#151515" stroke-width="1.0"/>
<line x1="311.29" y1="429.20" x2="316.49" y2="429.20" stroke="#151515" stroke-width="1.1"/>
<line x1="313.89" y1="439.60" x2="313.89" y2="445.70" stroke="#151515" stroke-width="1.0"/>
<line x1="311.29" y1="445.70" x2="316.49" y2="445.70" stroke="#151515" stroke-width="1.1"/>
<polyline points="213.38,462.60 223.96,528.70 239.83,528.70 255.70,528.70 276.86,528.70" fill="none" stroke="#40245a" stroke-width="1.7" stroke-linejoin="round"/>
<circle cx="213.38" cy="462.60" r="2.50" fill="#fff" stroke="#40245a" stroke-width="1.1"/>
<circle cx="223.96" cy="528.70" r="2.50" fill="#fff" stroke="#40245a" stroke-width="1.1"/>
<circle cx="239.83" cy="528.70" r="2.50" fill="#fff" stroke="#40245a" stroke-width="1.1"/>
<circle cx="255.70" cy="528.70" r="2.50" fill="#fff" stroke="#40245a" stroke-width="1.1"/>
<circle cx="276.86" cy="528.70" r="2.50" fill="#fff" stroke="#40245a" stroke-width="1.1"/>
<polyline points="213.38,490.40 223.96,448.70 239.83,490.50 255.70,507.50 276.86,528.70 298.02,459.80 313.89,439.60 335.05,428.40 350.92,426.00" fill="none" stroke="#28426c" stroke-width="1.7" stroke-linejoin="round"/>
<rect x="210.78" y="487.80" width="5.20" height="5.20" fill="#fff" stroke="#28426c" stroke-width="1.2"/>
<rect x="221.36" y="446.10" width="5.20" height="5.20" fill="#fff" stroke="#28426c" stroke-width="1.2"/>
<rect x="237.23" y="487.90" width="5.20" height="5.20" fill="#fff" stroke="#28426c" stroke-width="1.2"/>
<rect x="253.10" y="504.90" width="5.20" height="5.20" fill="#fff" stroke="#28426c" stroke-width="1.2"/>
<rect x="274.26" y="526.10" width="5.20" height="5.20" fill="#fff" stroke="#28426c" stroke-width="1.2"/>
<rect x="295.42" y="457.20" width="5.20" height="5.20" fill="#fff" stroke="#28426c" stroke-width="1.2"/>
<rect x="311.29" y="437.00" width="5.20" height="5.20" fill="#fff" stroke="#28426c" stroke-width="1.2"/>
<rect x="332.45" y="425.80" width="5.20" height="5.20" fill="#fff" stroke="#28426c" stroke-width="1.2"/>
<rect x="348.32" y="423.40" width="5.20" height="5.20" fill="#fff" stroke="#28426c" stroke-width="1.2"/>
<polyline points="213.38,481.40 223.96,462.00 239.83,498.60 255.70,477.30 276.86,480.90 298.02,442.50 313.89,432.90 335.05,426.00 350.92,430.40" fill="none" stroke="#ab0f39" stroke-width="1.7" stroke-linejoin="round"/>
<rect x="210.58" y="478.60" width="5.60" height="5.60" fill="#ab0f39"/>
<rect x="221.16" y="459.20" width="5.60" height="5.60" fill="#ab0f39"/>
<rect x="237.03" y="495.80" width="5.60" height="5.60" fill="#ab0f39"/>
<rect x="252.90" y="474.50" width="5.60" height="5.60" fill="#ab0f39"/>
<rect x="274.06" y="478.10" width="5.60" height="5.60" fill="#ab0f39"/>
<rect x="295.22" y="439.70" width="5.60" height="5.60" fill="#ab0f39"/>
<rect x="311.09" y="430.10" width="5.60" height="5.60" fill="#ab0f39"/>
<rect x="332.25" y="423.20" width="5.60" height="5.60" fill="#ab0f39"/>
<rect x="348.12" y="427.60" width="5.60" height="5.60" fill="#ab0f39"/>
<polyline points="213.38,452.40 223.96,435.90 239.83,435.90 255.70,435.90 276.86,528.70 298.02,528.70 313.89,528.70 335.05,528.70 350.92,528.70" fill="none" stroke="#5f9c42" stroke-width="1.7" stroke-linejoin="round"/>
<circle cx="213.38" cy="452.40" r="2.40" fill="#5f9c42"/>
<circle cx="223.96" cy="435.90" r="2.40" fill="#5f9c42"/>
<circle cx="239.83" cy="435.90" r="2.40" fill="#5f9c42"/>
<circle cx="255.70" cy="435.90" r="2.40" fill="#5f9c42"/>
<circle cx="276.86" cy="528.70" r="2.40" fill="#5f9c42"/>
<circle cx="298.02" cy="528.70" r="2.40" fill="#5f9c42"/>
<circle cx="313.89" cy="528.70" r="2.40" fill="#5f9c42"/>
<circle cx="335.05" cy="528.70" r="2.40" fill="#5f9c42"/>
<circle cx="350.92" cy="528.70" r="2.40" fill="#5f9c42"/>
<line x1="291.20" y1="494.50" x2="309.60" y2="494.50" stroke="#ab0f39" stroke-width="1.7"/>
<rect x="297.60" y="491.70" width="5.60" height="5.60" fill="#ab0f39"/>
<text transform="translate(313.50 497.20)" font-size="7.8" fill="#151515" stroke="#151515" stroke-width="0.1" text-anchor="start" textLength="47.7" lengthAdjust="spacingAndGlyphs">CD40KO+plts</text>
<line x1="291.20" y1="503.00" x2="309.60" y2="503.00" stroke="#28426c" stroke-width="1.7"/>
<rect x="297.80" y="500.40" width="5.20" height="5.20" fill="#fff" stroke="#28426c" stroke-width="1.2"/>
<text transform="translate(313.50 505.70)" font-size="7.8" fill="#151515" stroke="#151515" stroke-width="0.1" text-anchor="start" textLength="31.0" lengthAdjust="spacingAndGlyphs">CD40KO</text>
<line x1="291.20" y1="511.20" x2="309.60" y2="511.20" stroke="#5f9c42" stroke-width="1.7"/>
<circle cx="300.40" cy="511.20" r="2.40" fill="#5f9c42"/>
<text transform="translate(313.50 513.90)" font-size="7.8" fill="#151515" stroke="#151515" stroke-width="0.1" text-anchor="start" textLength="26.5" lengthAdjust="spacingAndGlyphs">BL/6, 1&#176;</text>
<line x1="291.20" y1="519.60" x2="309.60" y2="519.60" stroke="#40245a" stroke-width="1.7"/>
<circle cx="300.40" cy="519.60" r="2.50" fill="#fff" stroke="#40245a" stroke-width="1.1"/>
<text transform="translate(313.50 522.30)" font-size="7.8" fill="#151515" stroke="#151515" stroke-width="0.1" text-anchor="start" textLength="26.5" lengthAdjust="spacingAndGlyphs">BL/6, 2&#176;</text>
</svg>
<div class="frame"></div><div class="frame2"></div>
</div>
</body></html>
